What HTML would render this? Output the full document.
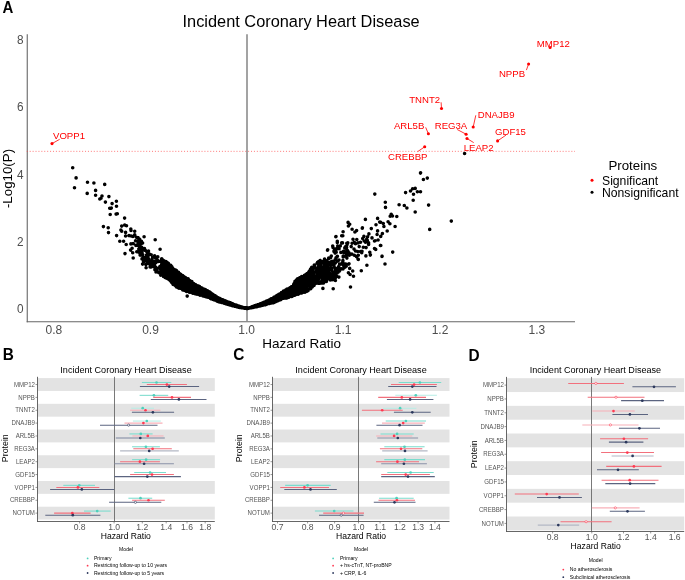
<!DOCTYPE html>
<html><head><meta charset="utf-8"><title>Figure</title>
<style>html,body{margin:0;padding:0;background:#fff;}svg{display:block;will-change:transform;}text{font-family:"Liberation Sans", sans-serif;}</style></head>
<body><svg width="685" height="580" viewBox="0 0 685 580" font-family='"Liberation Sans", sans-serif'>
<rect width="685" height="580" fill="#fff"/>
<text transform="translate(2.60,12.60) scale(1,1.12)" font-size="15.0" fill="#000" text-anchor="start" font-weight="bold">A</text>
<text transform="translate(301.10,26.60) scale(1,1.0)" font-size="16.35" fill="#000" text-anchor="middle">Incident Coronary Heart Disease</text>
<line x1="27.25" y1="34.3" x2="27.25" y2="322.2" stroke="#666" stroke-width="1.1"/>
<line x1="26.7" y1="321.7" x2="575" y2="321.7" stroke="#666" stroke-width="1.1"/>
<line x1="247.0" y1="34.3" x2="247.0" y2="321.2" stroke="#8c8c8c" stroke-width="1.6"/>
<text transform="translate(23.60,43.90) scale(1,1.06)" font-size="11.8" fill="#4d4d4d" text-anchor="end">8</text>
<text transform="translate(23.60,111.20) scale(1,1.06)" font-size="11.8" fill="#4d4d4d" text-anchor="end">6</text>
<text transform="translate(23.60,178.50) scale(1,1.06)" font-size="11.8" fill="#4d4d4d" text-anchor="end">4</text>
<text transform="translate(23.60,245.80) scale(1,1.06)" font-size="11.8" fill="#4d4d4d" text-anchor="end">2</text>
<text transform="translate(23.60,313.10) scale(1,1.06)" font-size="11.8" fill="#4d4d4d" text-anchor="end">0</text>
<text transform="translate(53.80,334.20) scale(1,1.0)" font-size="12.0" fill="#4d4d4d" text-anchor="middle">0.8</text>
<text transform="translate(150.50,334.20) scale(1,1.0)" font-size="12.0" fill="#4d4d4d" text-anchor="middle">0.9</text>
<text transform="translate(246.70,334.20) scale(1,1.0)" font-size="12.0" fill="#4d4d4d" text-anchor="middle">1.0</text>
<text transform="translate(343.20,334.20) scale(1,1.0)" font-size="12.0" fill="#4d4d4d" text-anchor="middle">1.1</text>
<text transform="translate(440.00,334.20) scale(1,1.0)" font-size="12.0" fill="#4d4d4d" text-anchor="middle">1.2</text>
<text transform="translate(536.80,334.20) scale(1,1.0)" font-size="12.0" fill="#4d4d4d" text-anchor="middle">1.3</text>
<text transform="translate(301.60,348.40) scale(1,1.0)" font-size="13.5" fill="#000" text-anchor="middle">Hazard Ratio</text>
<text x="0" y="0" font-size="13.3" text-anchor="middle" transform="translate(12.2,178.5) rotate(-90)">-Log10(P)</text>
<line x1="26.79" y1="151.35" x2="575" y2="151.35" stroke="#ff3b3b" stroke-width="0.9" stroke-dasharray="1 1.9122" opacity="0.75"/>
<text transform="translate(608.40,169.50) scale(1,1.0)" font-size="13.3" fill="#000" text-anchor="start">Proteins</text>
<circle cx="592" cy="180.2" r="1.5" fill="#ff0000"/>
<text transform="translate(602.00,184.60) scale(1,1.0)" font-size="12.2" fill="#000" text-anchor="start">Significant</text>
<circle cx="592" cy="192.3" r="1.5" fill="#000"/>
<text transform="translate(602.00,196.60) scale(1,1.0)" font-size="12.2" fill="#000" text-anchor="start">Nonsignificant</text>
<polygon points="162.0,257.8 163.0,258.5 164.0,259.1 165.0,259.8 166.0,260.4 167.0,261.1 168.0,261.7 169.0,262.5 170.0,263.5 171.0,264.4 172.0,265.4 173.0,266.3 174.0,267.3 175.0,268.3 176.0,269.2 177.0,270.2 178.0,270.9 179.0,271.6 180.0,272.2 181.0,272.8 182.0,273.5 183.0,274.1 184.0,274.8 185.0,275.4 186.0,276.1 187.0,276.8 188.0,277.6 189.0,278.3 190.0,279.1 191.0,279.9 192.0,280.6 193.0,281.4 194.0,282.1 195.0,282.8 196.0,283.4 197.0,284.0 198.0,284.6 199.0,285.2 200.0,285.8 201.0,286.4 202.0,287.0 203.0,287.6 204.0,288.1 205.0,288.6 206.0,289.1 207.0,289.6 208.0,290.1 209.0,290.6 210.0,291.1 211.0,292.0 212.0,292.9 213.0,293.5 214.0,294.1 215.0,294.7 216.0,295.4 217.0,296.0 218.0,296.6 219.0,297.1 220.0,297.6 221.0,298.0 222.0,298.5 223.0,298.9 224.0,299.4 225.0,299.8 226.0,300.2 227.0,300.6 228.0,301.0 229.0,301.4 230.0,301.8 231.0,302.2 232.0,302.6 233.0,303.0 234.0,303.4 235.0,303.8 236.0,304.2 237.0,304.5 238.0,304.9 239.0,305.3 240.0,305.6 241.0,305.9 242.0,306.3 243.0,306.6 244.0,307.0 245.0,307.2 246.0,307.4 247.0,307.6 247.0,309.3 246.0,309.2 245.0,309.1 244.0,308.9 243.0,308.8 242.0,308.6 241.0,308.5 240.0,308.3 239.0,308.2 238.0,308.0 237.0,307.8 236.0,307.5 235.0,307.3 234.0,307.0 233.0,306.7 232.0,306.5 231.0,306.2 230.0,305.9 229.0,305.6 228.0,305.3 227.0,305.1 226.0,304.8 225.0,304.5 224.0,304.2 223.0,303.9 222.0,303.6 221.0,303.3 220.0,303.0 219.0,302.7 218.0,302.4 217.0,302.0 216.0,301.6 215.0,301.2 214.0,300.8 213.0,300.4 212.0,300.1 211.0,299.7 210.0,299.3 209.0,299.0 208.0,298.6 207.0,298.3 206.0,297.9 205.0,297.6 204.0,297.2 203.0,296.9 202.0,296.6 201.0,296.4 200.0,296.2 199.0,295.9 198.0,295.7 197.0,295.5 196.0,295.2 195.0,295.0 194.0,294.7 193.0,294.4 192.0,294.1 191.0,293.8 190.0,293.5 189.0,293.2 188.0,292.9 187.0,292.5 186.0,292.2 185.0,291.8 184.0,291.4 183.0,290.9 182.0,290.5 181.0,290.1 180.0,289.6 179.0,289.2 178.0,288.7 177.0,288.3 176.0,287.6 175.0,286.9 174.0,286.2 173.0,285.5 172.0,284.5 171.0,283.5 170.0,282.6 169.0,281.6 168.0,280.8 167.0,280.2 166.0,279.6 165.0,279.0 164.0,278.5 163.0,278.1 162.0,277.7" fill="#000"/>
<polygon points="247.0,307.8 248.0,307.5 249.0,307.1 250.0,306.7 251.0,306.3 252.0,305.9 253.0,305.6 254.0,305.2 255.0,304.8 256.0,304.5 257.0,304.1 258.0,303.8 259.0,303.4 260.0,303.0 261.0,302.6 262.0,302.1 263.0,301.7 264.0,301.3 265.0,300.8 266.0,300.4 267.0,299.9 268.0,299.4 269.0,298.9 270.0,298.4 271.0,297.9 272.0,297.4 273.0,296.9 274.0,296.4 275.0,295.8 276.0,295.2 277.0,294.6 278.0,294.0 279.0,293.4 280.0,292.8 281.0,292.0 282.0,291.2 283.0,290.4 284.0,289.8 285.0,289.2 286.0,288.7 287.0,288.1 288.0,287.5 289.0,286.8 290.0,286.2 291.0,285.5 292.0,284.7 293.0,283.2 294.0,281.8 295.0,280.4 296.0,279.3 297.0,278.4 298.0,277.4 299.0,276.8 300.0,276.3 301.0,275.8 302.0,275.3 303.0,274.8 304.0,274.3 305.0,273.8 306.0,273.0 307.0,271.8 308.0,270.7 308.0,291.8 307.0,292.3 306.0,292.9 305.0,293.3 304.0,293.6 303.0,293.9 302.0,294.1 301.0,294.4 300.0,294.7 299.0,295.1 298.0,295.5 297.0,295.8 296.0,296.2 295.0,296.6 294.0,296.9 293.0,297.2 292.0,297.5 291.0,297.8 290.0,298.1 289.0,298.3 288.0,298.6 287.0,298.9 286.0,299.2 285.0,299.4 284.0,299.7 283.0,300.0 282.0,300.3 281.0,300.6 280.0,301.0 279.0,301.4 278.0,301.8 277.0,302.2 276.0,302.7 275.0,303.1 274.0,303.4 273.0,303.7 272.0,303.9 271.0,304.2 270.0,304.4 269.0,304.7 268.0,304.9 267.0,305.2 266.0,305.4 265.0,305.7 264.0,305.9 263.0,306.2 262.0,306.4 261.0,306.7 260.0,306.9 259.0,307.1 258.0,307.3 257.0,307.5 256.0,307.7 255.0,307.9 254.0,308.2 253.0,308.4 252.0,308.5 251.0,308.7 250.0,308.8 249.0,309.0 248.0,309.1 247.0,309.2" fill="#000"/>

<path d="M138.1 242.8h0M138.2 237.9h0M138.3 242.7h0M138.3 245.6h0M138.7 252.1h0M138.8 249.0h0M138.8 239.0h0M139.2 249.8h0M139.3 239.1h0M139.8 239.5h0M140.1 255.1h0M140.4 241.7h0M140.4 249.0h0M140.6 241.5h0M140.8 255.0h0M141.2 252.4h0M141.2 243.8h0M141.4 243.1h0M141.7 247.2h0M142.0 258.9h0M142.0 252.3h0M142.7 254.6h0M142.6 249.9h0M142.8 258.8h0M143.1 257.0h0M143.5 261.5h0M143.9 260.3h0M144.4 259.1h0M144.5 248.5h0M144.7 260.3h0M145.0 257.6h0M145.3 250.5h0M145.3 250.2h0M145.8 264.0h0M145.9 264.6h0M146.2 260.7h0M146.5 255.2h0M146.6 257.2h0M147.0 260.2h0M147.1 252.3h0M147.0 252.3h0M147.2 263.2h0M147.6 260.5h0M148.2 252.9h0M148.0 256.6h0M148.5 263.5h0M148.5 258.9h0M148.5 251.0h0M149.9 254.3h0M150.1 267.0h0M150.3 261.3h0M150.3 264.9h0M150.5 265.9h0M150.8 262.5h0M151.2 254.7h0M151.2 266.9h0M151.7 263.1h0M151.7 265.9h0M151.6 264.5h0M151.8 263.5h0M151.8 262.1h0M152.1 263.8h0M152.0 259.3h0M152.6 262.2h0M152.6 257.5h0M152.8 265.8h0M153.0 266.2h0M154.5 264.8h0M154.3 261.6h0M154.7 267.5h0M154.7 265.8h0M154.6 255.7h0M154.8 263.6h0M154.9 269.7h0M155.7 258.3h0M155.7 267.9h0M155.7 262.7h0M155.6 262.2h0M155.5 269.2h0M155.6 261.7h0M155.6 267.2h0M155.8 268.0h0M156.0 257.9h0M155.9 269.2h0M156.0 272.0h0M156.8 271.5h0M156.8 269.0h0M157.3 261.5h0M157.7 271.9h0M157.7 260.6h0M157.8 256.9h0M158.0 271.7h0M158.4 261.4h0M158.6 268.0h0M158.9 272.7h0M160.0 261.3h0M159.9 266.6h0M160.1 268.6h0M160.7 273.1h0M160.7 270.9h0M160.9 261.1h0M161.0 269.0h0M160.8 275.2h0M160.8 267.4h0M161.4 270.1h0M161.5 266.3h0M161.4 270.9h0M161.5 264.5h0M161.7 259.7h0M161.7 258.8h0M161.9 260.2h0M161.9 268.7h0M162.0 259.4h0M161.9 270.1h0M162.1 262.8h0M162.4 272.4h0M162.4 268.9h0M162.6 269.1h0M162.6 272.4h0M162.6 267.5h0M162.7 268.2h0M162.6 273.9h0M162.8 266.2h0M163.0 269.7h0M162.9 271.2h0M162.9 269.7h0M163.1 264.6h0M163.3 269.9h0M163.5 275.4h0M163.3 264.3h0M163.7 265.3h0M163.6 263.3h0M163.6 274.4h0M163.9 263.5h0M163.8 272.3h0M163.9 261.0h0M163.9 274.3h0M164.2 264.4h0M164.4 269.4h0M164.4 263.8h0M164.5 265.4h0M164.5 267.7h0M164.8 274.0h0M164.9 276.7h0M164.9 271.4h0M165.1 269.3h0M165.0 268.4h0M165.2 263.1h0M165.3 277.6h0M165.9 261.5h0M166.1 275.2h0M166.4 275.8h0M166.3 277.6h0M166.7 272.2h0M166.7 265.5h0M166.8 262.4h0M167.0 277.8h0M167.1 270.9h0M167.0 274.5h0M167.2 269.4h0M167.2 275.2h0M167.1 263.4h0M167.0 265.2h0M167.5 274.1h0M167.5 269.3h0M167.3 275.8h0M167.7 274.3h0M168.0 267.3h0M168.1 263.3h0M168.1 277.4h0M168.0 267.4h0M168.4 273.9h0M168.4 269.4h0M168.4 275.0h0M168.3 263.3h0M168.5 275.3h0M168.3 275.5h0M168.6 264.3h0M168.6 267.7h0M168.5 264.1h0M168.6 266.7h0M168.8 278.5h0M168.9 277.2h0M168.8 273.5h0M169.0 278.4h0M168.8 272.2h0M169.1 277.5h0M169.1 271.3h0M169.3 266.4h0M169.3 273.5h0M169.7 273.6h0M169.5 274.0h0M169.6 266.9h0M169.7 278.2h0M169.5 273.3h0M169.7 271.0h0M169.8 278.3h0M170.0 266.1h0M169.8 267.2h0M170.0 280.1h0M170.0 272.5h0M170.4 273.8h0M170.4 272.4h0M170.7 270.4h0M170.7 265.2h0M170.7 267.9h0M170.6 276.4h0M170.8 266.1h0M170.8 267.4h0M171.0 271.1h0M171.2 269.9h0M171.1 278.5h0M171.3 273.2h0M171.4 281.9h0M171.3 277.9h0M171.4 268.0h0M171.5 277.9h0M171.5 271.6h0M171.7 266.6h0M171.9 275.9h0M171.9 278.0h0M172.0 269.0h0M172.2 282.9h0M172.1 282.7h0M172.1 272.9h0M172.2 274.6h0M172.1 273.1h0M172.1 268.8h0M172.4 280.6h0M172.3 270.6h0M172.6 277.9h0M172.5 268.7h0M172.7 280.1h0M172.9 277.1h0M172.8 273.1h0M173.2 271.0h0M173.1 270.8h0M173.2 272.4h0M173.2 284.5h0M173.4 279.7h0M173.3 273.2h0M173.8 271.5h0M174.0 284.0h0M174.3 284.8h0M174.5 279.4h0M174.3 273.9h0M174.8 279.6h0M175.2 275.0h0M175.4 280.9h0M175.6 285.6h0M175.7 280.5h0M175.6 270.0h0M175.9 283.5h0M175.9 277.6h0M176.2 286.4h0M176.4 270.6h0M176.4 273.8h0M176.4 278.8h0M176.5 286.9h0M176.6 271.7h0M176.6 279.0h0M176.6 286.3h0M176.7 272.9h0M176.5 277.3h0M176.9 274.2h0M176.9 286.9h0M176.9 271.9h0M176.9 281.7h0M176.8 275.0h0M176.8 279.7h0M177.2 286.9h0M177.1 278.8h0M177.2 276.0h0M177.2 276.0h0M177.5 280.2h0M177.3 277.1h0M177.3 275.5h0M177.4 273.0h0M177.7 285.8h0M177.7 280.0h0M177.6 279.9h0M177.6 273.6h0M177.5 284.4h0M177.7 273.9h0M177.5 275.7h0M177.9 278.5h0M178.1 279.3h0M178.2 275.9h0M178.2 276.9h0M178.3 287.8h0M178.3 276.8h0M178.5 272.4h0M178.3 275.4h0M178.3 279.5h0M178.7 285.0h0M178.6 274.4h0M178.8 281.3h0M178.9 284.0h0M178.8 288.1h0M178.9 279.1h0M178.9 284.7h0M179.1 277.0h0M179.2 277.6h0M179.2 279.0h0M179.2 287.6h0M179.0 288.2h0M179.3 281.3h0M179.3 278.5h0M179.5 278.6h0M179.7 274.8h0M179.7 283.2h0M179.6 285.1h0M179.6 286.9h0M179.9 280.1h0M180.1 284.8h0M180.2 274.2h0M180.5 282.4h0M180.5 285.6h0M180.5 274.3h0M180.4 276.4h0M180.5 276.4h0M180.6 286.2h0M180.6 281.4h0M180.7 283.7h0M180.9 287.3h0M181.1 282.8h0M181.1 288.5h0M181.5 281.5h0M181.5 278.4h0M181.3 286.7h0M181.3 287.0h0M181.4 281.8h0M181.7 287.6h0M181.6 276.1h0M181.8 280.5h0M181.9 288.3h0M182.0 276.8h0M182.1 288.4h0M182.1 278.4h0M182.1 279.3h0M182.3 285.3h0M182.3 288.2h0M182.6 289.3h0M182.7 275.7h0M182.7 288.6h0M182.9 277.0h0M182.8 289.9h0M182.9 282.8h0M183.0 279.3h0M183.0 288.7h0M183.2 278.0h0M183.0 288.4h0M183.3 282.7h0M183.3 282.7h0M183.4 285.1h0M183.6 288.8h0M184.0 278.2h0M183.9 283.7h0M184.2 290.1h0M184.0 287.1h0M184.0 282.5h0M184.1 284.8h0M184.4 280.1h0M184.3 278.1h0M184.4 280.2h0M184.5 288.4h0M184.3 285.0h0M184.5 281.3h0M184.7 285.9h0M184.7 285.4h0M184.7 280.9h0M184.7 280.0h0M184.9 288.1h0M184.9 281.0h0M184.9 277.5h0M185.2 283.2h0M185.2 281.7h0M185.0 284.2h0M185.2 289.8h0M185.4 282.1h0M185.3 283.6h0M185.4 286.6h0M185.6 284.9h0M185.5 283.9h0M185.6 282.3h0M185.5 286.2h0M185.7 281.9h0M186.0 278.7h0M185.8 284.0h0M186.2 291.2h0M186.1 288.4h0M186.5 287.9h0M186.3 281.4h0M186.5 291.4h0M186.7 290.5h0M186.6 283.0h0M186.5 287.2h0M186.6 288.7h0M186.6 286.7h0M186.7 284.0h0M186.8 284.0h0M186.8 288.8h0M187.0 290.9h0M187.1 287.1h0M187.1 282.5h0M187.1 280.0h0M187.1 282.9h0M187.1 289.6h0M187.2 287.3h0M187.2 280.9h0M187.5 279.3h0M187.4 289.9h0M187.6 282.3h0M187.7 282.8h0M187.6 291.0h0M187.5 291.3h0M187.7 287.1h0M187.8 283.1h0M187.9 290.9h0M188.0 291.2h0M188.1 281.1h0M188.0 287.3h0M188.1 278.7h0M188.2 282.1h0M188.4 281.9h0M188.3 281.3h0M188.3 291.5h0M188.4 290.1h0M188.4 283.0h0M188.3 284.6h0M188.3 284.3h0M188.6 287.9h0M188.7 288.5h0M188.8 282.8h0M189.1 289.7h0M189.2 287.1h0M189.1 283.9h0M189.3 290.4h0M189.4 292.3h0M189.3 284.2h0M189.4 288.1h0M189.7 288.5h0M189.9 280.9h0M189.8 280.7h0M189.8 282.4h0M189.9 284.0h0M190.0 290.2h0M190.1 285.6h0M190.5 284.3h0M190.3 291.3h0M190.3 288.4h0M190.6 284.6h0M190.7 290.7h0M190.5 282.4h0M190.6 286.2h0M190.7 292.1h0M190.7 289.5h0M191.0 284.1h0M190.8 284.4h0M190.8 289.5h0M191.5 290.2h0M191.4 283.0h0M191.3 285.5h0M191.3 281.7h0M191.4 286.4h0M191.7 287.1h0M191.5 290.6h0M191.6 286.7h0M191.9 284.4h0M191.8 282.8h0M191.8 281.6h0M191.9 290.2h0M191.9 283.0h0M191.9 291.3h0M192.1 287.0h0M192.4 289.7h0M192.3 289.9h0M192.4 290.2h0M192.6 287.9h0M192.6 284.8h0M192.6 286.1h0M192.9 284.4h0M192.8 293.2h0M193.2 292.9h0M193.0 287.0h0M193.1 284.2h0M193.3 288.2h0M193.4 286.9h0M193.4 291.9h0M193.3 285.5h0M193.6 289.9h0M193.5 291.9h0M193.5 290.4h0M193.9 292.1h0M193.8 283.9h0M194.1 288.0h0M194.1 284.8h0M194.1 285.9h0M194.1 291.5h0M194.0 285.3h0M194.4 290.5h0M194.5 292.4h0M194.4 288.1h0M194.6 290.4h0M194.6 286.4h0M194.7 287.8h0M194.8 292.9h0M195.0 293.1h0M195.0 286.1h0M195.0 293.7h0M195.6 284.9h0M195.7 291.1h0M196.0 293.8h0M195.8 285.1h0M196.0 291.0h0M195.8 289.9h0M195.8 293.5h0M195.8 286.2h0M195.8 287.6h0M196.1 292.6h0M196.0 293.6h0M196.2 285.9h0M196.1 289.9h0M196.3 286.2h0M196.5 293.3h0M196.3 291.4h0M196.6 294.0h0M196.6 292.6h0M196.5 291.8h0M196.7 292.9h0M196.8 289.1h0M196.9 292.4h0M196.8 294.0h0M196.8 287.6h0M197.0 293.5h0M197.2 289.5h0M197.2 288.7h0M197.2 291.2h0M197.1 290.1h0M197.2 290.2h0M197.5 290.2h0M197.3 292.9h0M197.4 291.9h0M197.7 291.9h0M197.7 287.9h0M197.8 288.5h0M197.8 292.6h0M197.9 290.7h0M197.8 288.8h0M197.9 289.9h0M198.2 286.4h0M198.2 290.3h0M198.1 292.6h0M198.2 291.5h0M198.2 286.5h0M198.5 293.3h0M198.4 294.2h0M198.3 292.8h0M198.4 292.6h0M198.3 290.0h0M198.5 286.1h0M198.3 290.2h0M198.6 291.8h0M198.7 293.9h0M198.6 292.6h0M198.7 289.4h0M198.9 288.8h0M198.9 290.5h0M198.8 292.8h0M198.9 287.4h0M198.8 293.2h0M199.1 288.2h0M199.0 289.5h0M199.0 290.3h0M199.2 292.0h0M199.2 294.1h0M199.4 290.8h0M199.4 289.1h0M199.5 286.6h0M199.3 287.9h0M199.3 294.6h0M199.3 288.9h0M199.7 287.6h0M199.5 288.5h0M199.6 294.7h0M199.7 291.4h0M199.8 293.4h0M199.9 293.5h0M199.8 294.4h0M199.8 294.6h0M200.2 289.8h0M200.0 287.9h0M200.1 289.0h0M200.2 287.9h0M200.0 295.3h0M200.4 293.6h0M200.3 294.0h0M200.5 291.7h0M200.6 294.2h0M200.5 293.6h0M200.8 293.3h0M201.0 292.6h0M201.0 288.8h0M201.2 291.5h0M201.2 293.4h0M201.3 291.1h0M201.3 288.4h0M201.4 293.5h0M201.6 292.3h0M201.7 288.1h0M202.0 288.8h0M201.9 288.0h0M202.0 294.0h0M201.8 293.7h0M201.9 288.9h0M201.9 293.3h0M201.8 291.8h0M202.0 294.6h0M202.2 294.5h0M202.1 292.5h0M202.4 289.8h0M202.3 288.8h0M202.3 294.7h0M202.4 293.9h0M202.7 292.2h0M202.7 291.2h0M202.8 293.7h0M202.8 292.8h0M202.8 294.1h0M203.2 291.5h0M203.2 295.3h0M203.2 294.8h0M203.1 294.0h0M203.0 295.9h0M203.4 294.4h0M203.3 295.8h0M203.5 293.4h0M203.7 295.5h0M203.6 295.7h0M203.6 295.7h0M203.7 290.0h0M203.8 294.6h0M203.8 290.3h0M203.8 293.1h0M203.8 290.7h0M203.8 291.3h0M203.9 289.2h0M203.9 293.4h0M203.8 291.1h0M204.1 295.8h0M204.2 292.0h0M204.0 295.6h0M204.2 292.9h0M204.1 293.0h0M204.2 292.6h0M204.3 291.0h0M204.5 289.3h0M204.7 294.6h0M204.6 296.3h0M204.7 293.5h0M204.7 291.3h0M204.7 294.0h0M204.9 290.3h0M204.8 294.9h0M204.8 292.2h0M205.1 295.7h0M205.2 294.6h0M205.4 295.0h0M205.7 294.2h0M205.6 289.9h0M205.6 290.5h0M205.9 290.7h0M205.9 293.9h0M205.8 296.7h0M206.2 290.6h0M206.2 292.1h0M206.1 294.5h0M206.0 291.6h0M206.0 295.2h0M206.5 293.8h0M206.4 295.1h0M206.5 292.1h0M206.5 296.6h0M206.7 293.2h0M207.0 297.0h0M207.0 296.2h0M206.9 292.5h0M207.0 295.4h0M207.1 295.3h0M207.2 296.3h0M207.3 293.3h0M207.3 291.9h0M207.5 290.9h0M207.3 295.8h0M207.3 292.4h0M207.7 296.2h0M207.5 295.6h0M207.6 295.7h0M207.6 291.7h0M208.1 297.1h0M208.2 294.1h0M208.2 297.3h0M208.2 293.1h0M208.2 293.7h0M208.4 295.8h0M208.5 292.3h0M208.3 295.1h0M208.6 297.0h0M208.7 297.0h0M208.6 293.2h0M208.6 297.0h0M208.7 293.8h0M208.7 293.9h0M208.6 295.1h0M208.8 294.8h0M208.8 296.5h0M209.1 295.2h0M209.1 297.4h0M209.2 292.4h0M209.4 296.9h0M209.5 293.1h0M209.5 295.4h0M209.4 297.2h0M209.7 297.6h0M209.5 296.6h0M209.7 292.1h0M209.7 295.0h0M209.6 292.0h0M209.7 294.0h0M210.0 296.2h0M209.9 293.6h0M209.8 297.5h0M210.1 294.8h0M210.1 292.3h0M210.1 293.9h0M210.2 297.3h0M210.2 296.3h0M210.2 293.8h0M210.1 297.4h0M210.5 297.7h0M210.4 297.4h0M210.7 294.2h0M210.7 297.5h0M210.6 298.6h0M210.7 297.2h0M210.5 293.2h0M211.0 298.1h0M210.9 295.4h0M210.9 294.3h0M210.9 296.9h0M211.0 297.8h0M211.1 293.4h0M211.3 298.6h0M211.3 296.8h0M211.3 297.9h0M211.3 295.6h0M211.3 298.1h0M211.4 296.9h0M211.3 294.2h0M211.6 296.3h0M211.6 296.6h0M211.7 298.0h0M211.6 298.0h0M211.7 297.8h0M211.6 298.5h0M211.9 295.8h0M211.9 295.9h0M212.0 297.4h0M212.3 299.0h0M212.4 299.0h0M212.3 294.3h0M212.5 296.2h0M212.4 299.0h0M212.3 299.1h0M212.3 295.3h0M212.5 294.9h0M212.7 298.3h0M212.6 297.4h0M212.7 294.3h0M212.8 295.4h0M212.8 296.6h0M212.9 297.1h0M212.9 294.5h0M212.8 299.3h0M213.5 296.3h0M213.3 294.7h0M213.5 296.3h0M213.3 297.6h0M213.5 297.7h0M213.5 299.6h0M213.6 295.4h0M213.9 299.3h0M214.0 299.5h0M213.8 297.8h0M213.8 297.5h0M213.8 295.4h0M214.2 295.5h0M214.0 298.3h0M214.3 298.8h0M214.3 297.8h0M214.3 297.3h0M214.5 298.5h0M214.4 296.6h0M214.5 298.5h0M214.6 298.3h0M214.5 299.1h0M214.7 299.9h0M214.6 297.6h0M214.7 297.4h0M214.7 297.5h0M214.6 296.7h0M214.6 297.4h0M214.5 299.3h0M214.8 299.9h0M214.8 298.7h0M215.2 295.8h0M215.2 298.4h0M215.3 297.4h0M215.4 300.0h0M215.4 299.7h0M215.6 300.0h0M215.6 299.8h0M215.7 298.7h0M215.5 299.4h0M215.7 297.4h0M215.7 298.3h0M215.8 298.9h0M216.2 298.2h0M216.1 300.0h0M216.3 299.0h0M216.5 296.9h0M216.4 298.2h0M216.6 297.1h0M216.6 298.6h0M216.8 298.7h0M216.9 297.3h0M216.9 297.2h0M216.8 299.4h0M217.0 301.1h0M216.8 297.4h0M216.9 298.7h0M217.2 300.9h0M217.2 300.6h0M217.0 298.8h0M217.2 298.2h0M217.2 297.2h0M217.1 298.6h0M217.3 300.6h0M217.6 299.7h0M217.5 298.3h0M217.7 299.3h0M217.6 299.5h0M217.8 298.6h0M218.0 300.3h0M218.2 297.9h0M218.3 299.4h0M218.4 301.2h0M218.5 299.9h0M218.3 299.3h0M218.3 301.6h0M218.7 300.4h0M218.6 300.5h0M218.6 298.4h0M218.6 298.0h0M218.9 301.7h0M219.0 301.4h0M218.9 300.2h0M219.0 299.4h0M219.2 300.2h0M219.0 301.1h0M219.0 301.5h0M219.3 300.1h0M219.3 299.6h0M219.4 298.3h0M219.5 300.7h0M219.7 301.9h0M219.5 301.9h0M219.6 299.0h0M219.9 300.2h0M220.0 298.6h0M220.0 301.7h0M219.8 300.1h0M220.2 299.2h0M220.2 300.9h0M220.3 299.8h0M220.4 300.0h0M220.3 300.6h0M220.6 301.0h0M220.6 302.1h0M220.6 301.6h0M220.7 301.9h0M220.8 300.9h0M220.8 300.2h0M220.8 302.2h0M220.9 301.4h0M220.8 299.9h0M221.0 299.3h0M221.0 300.4h0M221.2 299.9h0M221.0 300.4h0M221.0 300.5h0M221.1 301.7h0M221.5 301.6h0M221.3 300.4h0M221.4 300.9h0M221.6 301.2h0M221.7 301.3h0M221.6 302.5h0M221.6 300.0h0M221.6 300.4h0M221.5 301.6h0M221.9 301.4h0M221.8 299.7h0M222.0 299.9h0M221.9 300.8h0M222.0 301.2h0M222.2 301.9h0M222.2 301.1h0M222.1 301.5h0M222.2 300.5h0M222.5 299.9h0M222.7 300.9h0M222.8 301.6h0M222.8 300.6h0M223.0 301.0h0M222.8 301.7h0M222.9 300.0h0M222.8 301.7h0M223.1 302.7h0M223.1 300.4h0M223.1 302.2h0M223.2 300.0h0M223.0 301.1h0M223.5 302.8h0M223.6 302.8h0M223.8 302.9h0M223.8 301.4h0M223.9 301.2h0M223.8 303.0h0M224.1 303.0h0M224.1 303.3h0M224.2 302.9h0M224.3 301.1h0M224.3 301.7h0M224.4 302.3h0M224.3 301.0h0M224.7 301.7h0M224.5 302.5h0M225.0 303.0h0M224.9 303.2h0M224.9 302.7h0M224.8 301.3h0M224.8 303.3h0M225.2 300.9h0M225.2 303.3h0M225.0 302.9h0M225.2 300.9h0M225.1 302.0h0M225.2 303.3h0M225.3 301.8h0M225.3 301.5h0M225.4 303.6h0M225.4 302.7h0M225.7 301.5h0M225.5 302.4h0M225.6 303.1h0M225.8 302.8h0M225.9 302.3h0M225.8 301.5h0M225.9 301.8h0M226.0 301.6h0M226.2 301.3h0M226.0 302.4h0M226.1 302.3h0M226.1 302.4h0M226.2 303.7h0M226.1 301.9h0M226.2 301.7h0M226.1 303.1h0M226.6 303.6h0M226.6 302.2h0M226.7 303.0h0M226.5 302.4h0M227.0 301.7h0M226.8 301.9h0M227.0 303.0h0M226.8 301.7h0M226.9 301.7h0M227.1 302.0h0M227.2 301.8h0M227.2 302.5h0M227.3 302.1h0M227.4 303.8h0M227.3 301.9h0M227.3 303.3h0M227.3 304.2h0M227.4 304.1h0M227.6 302.2h0M227.7 302.4h0M227.7 302.6h0M227.8 303.6h0M228.0 303.8h0M227.9 303.5h0M227.9 303.3h0M227.8 304.0h0M227.8 304.2h0M228.0 303.1h0M228.2 304.2h0M228.1 303.3h0M228.1 302.2h0M228.0 303.2h0M228.1 304.1h0M228.0 304.1h0M228.1 303.3h0M228.2 302.3h0M228.2 304.4h0M228.4 303.7h0M228.7 302.8h0M228.5 302.3h0M229.0 304.4h0M229.0 304.2h0M228.8 302.8h0M229.0 303.3h0M229.1 304.5h0M229.2 304.1h0M229.0 302.4h0M229.2 304.7h0M229.1 303.9h0M229.0 303.3h0M229.2 303.2h0M229.3 303.3h0M229.4 304.6h0M229.4 302.5h0M229.3 304.8h0M229.7 303.1h0M229.5 303.9h0M229.7 303.3h0M229.6 302.9h0M229.7 304.4h0M229.5 303.8h0M229.8 304.9h0M229.8 303.4h0M229.9 303.6h0M230.4 304.8h0M230.3 305.0h0M230.3 304.3h0M230.3 303.3h0M230.3 305.0h0M230.3 304.9h0M230.7 303.2h0M230.7 303.6h0M230.9 303.1h0M230.9 304.4h0M230.8 303.0h0M231.0 303.4h0M231.1 304.0h0M231.3 304.3h0M231.3 304.8h0M231.3 303.9h0M231.4 303.8h0M231.7 305.4h0M231.6 303.7h0M231.7 304.0h0M231.6 303.5h0M231.7 305.4h0M231.8 303.5h0M232.0 305.6h0M231.9 303.8h0M231.8 304.3h0M231.8 303.8h0M231.8 304.8h0M231.9 303.6h0M231.8 304.0h0M231.9 304.7h0M232.2 303.9h0M232.0 304.5h0M232.2 304.9h0M232.2 304.2h0M232.2 304.0h0M232.5 304.8h0M232.3 303.9h0M232.5 305.4h0M232.4 304.4h0M232.4 305.6h0M232.7 305.4h0M232.7 304.1h0M232.5 305.0h0M232.7 303.9h0M232.7 304.3h0M232.9 304.4h0M232.9 304.1h0M233.1 304.5h0M233.2 305.7h0M233.5 304.4h0M233.7 305.0h0M233.6 304.9h0M233.6 304.7h0M233.7 305.1h0M234.0 305.0h0M233.8 305.8h0M233.9 306.0h0M234.0 304.5h0M233.9 305.6h0M233.8 305.2h0M234.1 304.9h0M234.1 305.1h0M234.3 306.1h0M234.3 306.1h0M234.3 305.5h0M234.6 304.7h0M234.6 304.8h0M234.9 305.8h0M234.8 306.3h0M234.9 306.2h0M235.5 305.5h0M235.6 305.6h0M235.7 305.1h0M235.7 305.7h0M235.9 305.3h0M235.8 306.3h0M235.9 305.7h0M235.9 306.5h0M236.2 305.5h0M236.1 305.8h0M236.4 305.8h0M236.3 305.9h0M236.4 306.6h0M236.5 306.5h0M236.3 306.5h0M236.7 306.3h0M236.7 306.3h0M236.7 305.4h0M236.9 306.0h0M237.1 306.1h0M237.3 306.1h0M237.3 305.8h0M237.4 305.7h0M237.5 306.4h0M237.3 306.0h0M237.3 305.8h0M237.7 306.3h0M237.7 306.3h0M238.0 306.1h0M237.8 306.2h0M237.9 306.9h0M237.9 306.3h0M238.0 306.6h0M238.1 306.3h0M238.1 307.1h0M238.0 305.9h0M238.1 307.1h0M238.3 306.6h0M238.7 306.4h0M238.5 306.2h0M238.9 306.6h0M239.0 306.7h0M239.1 306.2h0M239.2 306.3h0M239.1 306.4h0M239.2 306.3h0M239.3 306.5h0M239.3 307.0h0M239.3 306.5h0M239.3 307.1h0M239.6 307.4h0M239.6 306.9h0M239.7 306.5h0M239.5 307.1h0M239.7 306.5h0M239.5 306.4h0M239.8 307.3h0M239.8 307.0h0M239.8 306.8h0M240.1 306.8h0M240.4 307.5h0M240.3 307.4h0M240.7 306.9h0M240.5 307.2h0M240.9 307.5h0M240.8 307.1h0M240.8 306.9h0M240.9 307.5h0M240.8 307.3h0M241.1 306.9h0M241.2 307.5h0M241.0 307.2h0M241.1 307.4h0M241.1 307.6h0M241.4 307.6h0M241.3 307.1h0M241.6 307.2h0M241.6 307.6h0M241.9 307.3h0M241.8 307.3h0M242.0 307.3h0M241.9 307.5h0M242.1 307.6h0M242.0 307.3h0M242.2 307.4h0M242.2 307.4h0M242.3 307.7h0M242.3 307.6h0M242.5 307.6h0M242.5 307.5h0M242.5 307.7h0M242.6 307.4h0M242.7 307.7h0M242.6 307.5h0M242.8 307.5h0M242.8 307.8h0M242.8 307.5h0M242.9 307.7h0M243.0 307.6h0M242.8 307.5h0M243.2 307.6h0M243.1 307.9h0M243.2 307.8h0M243.2 307.7h0M243.3 307.8h0M243.3 307.9h0M243.3 307.7h0M243.3 307.7h0M243.6 307.9h0M243.5 307.8h0M243.8 307.9h0M244.2 308.0h0M244.3 308.1h0M244.3 308.0h0M244.4 308.1h0M244.7 308.1h0M244.6 308.1h0M244.9 308.1h0M244.9 308.1h0M244.9 308.1h0M245.1 308.2h0M245.3 308.2h0M245.3 308.2h0M245.4 308.2h0M245.4 308.2h0M245.4 308.2h0M245.5 308.2h0M245.3 308.2h0M245.5 308.2h0M245.6 308.2h0M245.5 308.2h0M245.8 308.3h0M245.8 308.3h0M245.8 308.3h0M245.8 308.3h0M245.8 308.3h0M245.8 308.3h0M245.9 308.3h0M246.1 308.3h0M246.3 308.3h0M246.4 308.4h0M246.5 308.4h0M246.5 308.4h0M246.7 308.4h0M246.6 308.4h0M246.9 308.4h0M246.9 308.4h0M246.8 308.4h0M246.8 308.4h0M247.2 308.5h0M247.2 308.5h0M247.1 308.5h0M247.5 308.4h0M247.3 308.5h0M247.5 308.4h0M247.6 308.4h0M247.9 308.3h0M248.0 308.3h0M247.8 308.3h0M248.0 308.3h0M247.8 308.4h0M248.1 308.3h0M248.1 308.3h0M248.1 308.3h0M248.0 308.3h0M248.4 308.2h0M248.5 308.2h0M248.6 308.1h0M248.7 308.1h0M248.8 308.1h0M248.8 308.1h0M249.0 308.0h0M248.9 308.1h0M249.1 308.0h0M249.2 307.9h0M249.2 307.9h0M249.1 308.0h0M249.5 307.9h0M249.4 307.9h0M249.5 307.9h0M249.4 307.8h0M249.6 307.9h0M249.5 307.9h0M249.5 307.8h0M249.6 307.8h0M249.9 307.7h0M250.0 307.7h0M249.9 307.9h0M249.8 307.9h0M249.8 307.7h0M249.9 307.9h0M249.9 307.9h0M250.0 307.8h0M250.1 307.8h0M250.1 307.8h0M250.5 307.8h0M250.5 307.5h0M250.6 307.5h0M250.6 307.5h0M250.9 307.2h0M251.0 307.4h0M251.0 307.2h0M251.2 307.7h0M251.2 307.3h0M251.3 307.4h0M251.5 307.1h0M251.4 307.3h0M251.7 307.6h0M251.7 307.6h0M251.6 307.2h0M251.9 306.9h0M251.8 307.5h0M252.2 307.0h0M252.2 306.8h0M252.0 307.3h0M252.3 307.0h0M252.4 306.9h0M252.3 307.1h0M252.4 306.9h0M252.6 306.9h0M252.5 306.7h0M252.5 306.7h0M252.9 307.4h0M252.8 307.1h0M252.9 306.8h0M252.8 306.6h0M253.1 307.4h0M253.1 307.0h0M253.1 307.1h0M253.1 307.0h0M253.4 307.3h0M253.3 306.6h0M253.5 306.5h0M253.6 307.2h0M253.8 307.2h0M253.8 306.3h0M254.2 306.8h0M254.0 306.7h0M254.3 306.7h0M254.3 307.0h0M254.5 306.0h0M254.6 305.9h0M254.7 306.6h0M254.6 306.7h0M254.6 307.0h0M254.8 306.3h0M254.8 307.0h0M254.8 306.5h0M255.0 307.0h0M255.0 306.1h0M255.4 306.8h0M255.5 306.0h0M255.4 306.2h0M255.4 305.9h0M255.7 306.1h0M255.7 306.8h0M255.6 306.8h0M255.6 305.6h0M256.0 306.2h0M255.9 305.9h0M256.0 306.6h0M256.1 306.8h0M256.2 305.9h0M256.2 306.1h0M256.2 306.6h0M256.1 306.7h0M256.4 306.4h0M256.5 306.1h0M256.5 306.4h0M256.5 305.2h0M256.9 306.5h0M257.0 305.6h0M256.9 305.9h0M256.8 305.9h0M257.0 306.4h0M257.2 306.6h0M257.1 306.0h0M257.0 306.0h0M257.2 306.2h0M257.2 305.4h0M257.0 306.3h0M257.0 305.4h0M257.5 305.3h0M257.3 305.9h0M257.4 306.2h0M257.5 305.4h0M257.3 306.1h0M257.4 305.3h0M257.6 305.3h0M257.8 305.3h0M258.1 306.1h0M258.4 305.3h0M258.4 305.9h0M258.4 306.1h0M258.5 305.4h0M258.9 304.7h0M258.8 305.1h0M259.0 305.8h0M259.1 304.8h0M259.2 305.9h0M259.1 305.1h0M259.1 304.6h0M259.5 304.6h0M259.3 304.3h0M259.5 305.8h0M259.7 304.8h0M259.7 304.5h0M259.9 304.1h0M259.8 306.0h0M259.8 304.7h0M259.8 305.3h0M260.0 304.8h0M260.0 304.0h0M260.1 305.9h0M260.3 305.6h0M260.3 304.1h0M260.7 304.3h0M260.6 304.3h0M260.6 305.7h0M260.7 304.0h0M260.9 305.2h0M260.9 305.3h0M260.8 303.9h0M261.4 304.3h0M261.4 303.8h0M261.5 303.7h0M261.4 305.4h0M261.3 305.4h0M261.4 304.7h0M261.3 304.1h0M261.3 304.4h0M261.7 303.7h0M261.6 303.9h0M261.7 303.2h0M261.7 305.0h0M261.6 304.9h0M261.8 305.5h0M261.8 305.3h0M262.0 305.1h0M261.9 304.6h0M262.0 304.1h0M262.0 305.0h0M262.0 303.3h0M262.2 303.9h0M262.2 303.1h0M262.4 303.4h0M262.5 303.5h0M262.5 304.1h0M262.6 304.5h0M262.7 303.4h0M262.5 304.7h0M262.7 304.2h0M262.6 305.2h0M262.8 304.7h0M262.8 302.8h0M262.9 304.5h0M262.8 305.2h0M263.3 303.1h0M263.3 304.3h0M263.3 304.4h0M263.6 304.9h0M263.6 303.2h0M263.9 302.4h0M263.9 303.1h0M263.9 302.8h0M263.8 304.1h0M264.0 303.1h0M264.2 304.7h0M264.5 304.2h0M264.7 304.2h0M264.5 303.1h0M264.9 304.1h0M264.9 303.8h0M265.0 304.7h0M265.0 303.7h0M265.2 304.3h0M265.2 302.5h0M265.4 302.1h0M265.5 304.3h0M265.4 302.5h0M265.3 303.4h0M265.5 302.3h0M265.7 303.6h0M265.6 302.8h0M265.9 304.5h0M265.8 304.6h0M265.8 302.4h0M266.2 302.0h0M266.1 303.5h0M266.2 303.0h0M266.2 301.7h0M266.0 301.4h0M266.2 302.6h0M266.4 304.1h0M266.4 302.1h0M266.4 302.2h0M266.4 301.4h0M266.7 303.1h0M266.7 302.3h0M266.5 304.1h0M266.7 304.3h0M266.6 304.0h0M266.7 302.8h0M266.9 302.7h0M266.9 302.8h0M267.0 303.6h0M267.0 303.0h0M267.0 302.6h0M267.2 301.0h0M267.4 303.7h0M267.3 303.2h0M267.3 301.4h0M267.3 301.7h0M267.7 301.0h0M267.7 301.1h0M267.7 302.6h0M267.5 303.6h0M267.6 302.3h0M267.5 303.8h0M267.8 302.4h0M267.9 303.4h0M268.0 301.0h0M268.1 301.4h0M268.2 302.3h0M268.3 303.3h0M268.3 301.5h0M268.4 300.6h0M268.4 301.5h0M268.3 302.5h0M268.4 300.8h0M268.4 301.7h0M268.3 303.5h0M268.6 300.2h0M268.6 300.7h0M268.8 300.7h0M268.8 300.6h0M269.2 301.8h0M269.2 302.7h0M269.0 303.1h0M269.0 301.5h0M269.1 303.0h0M269.0 302.5h0M269.1 300.0h0M269.1 302.3h0M269.3 301.0h0M269.3 303.4h0M269.7 299.8h0M269.5 303.4h0M269.6 302.8h0M269.6 299.9h0M269.6 300.2h0M269.9 300.5h0M270.1 300.3h0M270.1 301.1h0M270.1 303.0h0M270.1 302.1h0M270.2 301.9h0M270.0 300.7h0M270.4 302.8h0M270.5 302.3h0M270.7 299.3h0M270.7 299.5h0M271.2 298.8h0M271.2 302.5h0M271.1 298.8h0M271.4 301.0h0M271.7 302.9h0M271.6 302.2h0M271.7 299.8h0M271.5 302.0h0M271.8 298.7h0M272.0 299.8h0M272.0 299.5h0M272.0 300.0h0M272.2 302.6h0M272.2 301.1h0M272.0 302.7h0M272.2 301.2h0M272.4 302.5h0M272.4 298.9h0M272.5 298.6h0M272.3 302.3h0M272.4 299.7h0M272.7 301.9h0M272.5 300.6h0M272.7 299.6h0M273.0 301.5h0M273.0 299.8h0M273.1 299.2h0M273.2 301.5h0M273.1 302.6h0M273.3 302.3h0M273.5 299.8h0M273.4 298.3h0M273.5 301.0h0M273.5 300.8h0M273.4 301.4h0M273.5 301.9h0M273.3 300.2h0M273.5 300.2h0M273.5 298.0h0M273.6 299.4h0M273.7 302.6h0M273.9 297.4h0M273.9 299.1h0M273.8 299.0h0M273.9 300.0h0M274.1 299.0h0M274.1 300.1h0M274.0 300.1h0M274.1 297.3h0M274.1 302.4h0M274.1 297.6h0M274.1 300.9h0M274.4 301.5h0M274.3 297.9h0M274.6 301.3h0M274.7 300.5h0M275.0 301.9h0M275.2 297.1h0M275.2 297.0h0M275.3 297.3h0M275.4 299.6h0M275.5 297.2h0M275.5 301.7h0M275.4 297.1h0M275.3 297.0h0M275.3 300.7h0M275.7 296.9h0M275.7 299.7h0M275.9 297.7h0M275.9 300.6h0M276.0 300.9h0M276.2 300.5h0M276.1 300.5h0M276.2 296.9h0M276.2 296.0h0M276.3 298.3h0M276.5 297.6h0M276.6 301.2h0M276.7 298.9h0M276.6 298.7h0M276.6 297.6h0M276.9 295.6h0M276.9 297.7h0M277.1 298.3h0M277.0 299.7h0M277.2 300.2h0M277.0 296.2h0M277.2 299.7h0M277.0 295.7h0M277.1 297.4h0M277.0 296.1h0M277.1 295.6h0M277.3 299.7h0M277.5 300.8h0M277.7 298.5h0M277.7 299.6h0M277.7 296.5h0M277.9 300.8h0M277.9 295.9h0M277.8 296.7h0M277.8 295.9h0M278.0 299.6h0M278.1 297.6h0M278.1 297.8h0M278.1 296.8h0M278.0 300.7h0M278.3 296.1h0M278.4 298.3h0M278.6 298.4h0M278.6 299.6h0M278.5 297.9h0M278.6 295.9h0M278.8 295.0h0M278.8 300.0h0M278.9 295.3h0M278.8 299.1h0M278.9 294.4h0M279.2 297.0h0M279.2 295.5h0M279.1 298.3h0M279.3 299.3h0M279.3 296.4h0M279.4 297.6h0M279.3 294.2h0M279.6 297.4h0M279.7 296.3h0M279.6 296.6h0M280.0 295.3h0M280.0 293.8h0M280.1 296.3h0M280.3 298.4h0M280.3 293.9h0M280.3 299.8h0M280.6 299.8h0M280.7 296.7h0M280.7 296.5h0M280.8 298.3h0M280.9 298.8h0M280.9 296.8h0M281.0 296.3h0M280.9 296.3h0M280.8 298.2h0M281.1 295.6h0M281.1 294.3h0M281.2 298.8h0M281.1 298.6h0M281.3 298.4h0M281.3 297.4h0M281.3 297.9h0M281.5 296.8h0M281.3 297.8h0M281.4 298.6h0M281.3 294.6h0M281.5 298.4h0M281.5 292.5h0M281.5 292.7h0M281.6 296.8h0M281.7 295.2h0M281.5 298.8h0M281.9 296.7h0M281.9 293.5h0M282.1 297.3h0M282.1 297.7h0M282.3 298.4h0M282.3 297.4h0M282.6 293.4h0M282.7 292.8h0M282.8 293.0h0M283.1 298.2h0M283.2 297.1h0M283.1 292.8h0M283.3 297.2h0M283.4 294.1h0M283.4 294.9h0M283.6 291.0h0M283.8 296.9h0M283.9 296.1h0M283.9 292.8h0M284.1 296.9h0M284.2 295.4h0M284.0 292.6h0M284.2 293.9h0M284.2 291.7h0M284.3 294.2h0M284.5 294.6h0M284.4 296.5h0M284.3 292.5h0M284.4 291.0h0M284.3 296.7h0M284.7 294.2h0M284.6 296.3h0M284.8 294.4h0M284.8 291.3h0M284.8 296.0h0M284.9 292.2h0M285.1 295.2h0M285.0 293.5h0M285.2 295.5h0M285.2 292.6h0M285.1 292.0h0M285.3 291.4h0M285.6 294.1h0M285.7 298.0h0M285.7 290.3h0M285.7 290.5h0M285.7 297.1h0M285.7 290.8h0M285.8 294.8h0M285.8 297.7h0M286.0 289.8h0M285.9 295.8h0M286.0 295.7h0M286.7 293.0h0M286.6 293.5h0M286.9 298.0h0M287.0 289.6h0M286.8 293.3h0M286.9 290.1h0M287.0 290.9h0M287.1 291.2h0M287.1 292.5h0M287.1 289.0h0M287.2 297.5h0M287.4 297.7h0M287.4 289.7h0M287.4 297.2h0M287.3 289.3h0M287.3 289.5h0M287.7 290.1h0M287.6 292.4h0M287.7 295.6h0M287.6 294.2h0M287.6 294.1h0M287.8 290.1h0M287.9 294.7h0M287.9 290.3h0M287.8 289.8h0M287.9 292.3h0M287.8 290.6h0M288.2 289.8h0M288.2 293.8h0M288.2 297.1h0M288.1 297.1h0M288.0 292.5h0M288.4 293.1h0M288.3 294.2h0M288.3 293.6h0M288.4 295.2h0M288.7 295.2h0M288.7 295.9h0M288.6 296.6h0M288.7 294.0h0M289.0 297.2h0M289.0 295.1h0M289.0 296.3h0M288.9 290.1h0M288.8 295.2h0M288.9 294.8h0M288.9 294.2h0M289.2 293.2h0M289.1 288.9h0M289.2 288.7h0M289.2 289.4h0M289.4 295.1h0M289.3 292.1h0M289.4 290.4h0M289.3 293.1h0M289.7 295.7h0M289.6 295.9h0M289.5 293.0h0M290.0 287.9h0M289.9 290.0h0M289.9 296.4h0M290.1 294.3h0M290.0 295.8h0M290.4 289.3h0M290.3 289.1h0M290.4 294.3h0M290.3 296.2h0M290.7 291.2h0M290.6 291.2h0M290.7 293.2h0M290.5 291.0h0M291.0 296.0h0M291.1 289.3h0M291.0 293.6h0M291.4 293.3h0M291.4 287.6h0M291.3 295.5h0M291.4 287.2h0M291.4 286.8h0M291.7 296.0h0M291.7 294.1h0M291.6 296.5h0M291.8 287.3h0M291.9 296.5h0M291.8 290.1h0M292.0 286.5h0M291.8 293.9h0M291.8 292.5h0M292.1 296.0h0M292.2 293.1h0M292.1 289.0h0M292.4 294.3h0M292.7 287.4h0M292.7 288.6h0M292.7 295.8h0M292.8 289.0h0M293.0 290.5h0M292.8 292.1h0M292.9 295.3h0M293.0 286.2h0M293.4 295.5h0M293.5 285.5h0M293.4 286.8h0M293.4 286.6h0M293.7 286.8h0M293.6 286.8h0M293.8 292.0h0M293.8 284.2h0M293.8 294.8h0M294.2 283.5h0M294.5 283.7h0M294.4 292.8h0M294.4 289.1h0M294.6 295.3h0M294.6 284.1h0M294.7 288.9h0M294.7 290.5h0M295.0 282.0h0M295.0 281.4h0M294.9 290.5h0M295.4 294.8h0M295.3 283.5h0M295.5 283.1h0M295.5 283.9h0M295.7 282.6h0M295.7 292.8h0M295.6 284.0h0M295.6 292.1h0M295.6 285.3h0M295.9 289.3h0M296.0 284.7h0M295.9 294.4h0M295.8 293.9h0M296.1 290.7h0M296.2 283.7h0M296.1 284.5h0M296.2 285.5h0M296.4 290.9h0M296.4 293.1h0M296.4 280.1h0M296.5 288.5h0M296.4 289.0h0M296.3 284.4h0M296.6 280.1h0M296.6 282.3h0M296.6 283.4h0M296.5 290.3h0M296.8 281.4h0M296.8 290.3h0M296.9 290.0h0M296.8 283.3h0M296.9 289.6h0M296.9 282.8h0M296.8 291.3h0M296.9 283.2h0M297.1 291.8h0M297.1 289.8h0M297.4 281.0h0M297.3 290.5h0M297.5 293.7h0M297.6 278.7h0M297.6 287.1h0M297.7 283.9h0M297.7 289.3h0M297.6 288.5h0M297.6 288.5h0M297.6 293.3h0M297.9 284.2h0M297.9 286.8h0M297.9 286.3h0M298.2 294.3h0M298.0 293.1h0M298.4 282.5h0M298.3 288.3h0M298.3 294.1h0M298.4 294.0h0M298.5 285.2h0M298.6 287.0h0M298.8 290.6h0M298.9 289.7h0M299.0 291.8h0M299.1 286.8h0M299.0 289.6h0M299.1 289.1h0M299.2 287.8h0M299.4 289.2h0M299.4 289.6h0M299.6 286.4h0M299.7 288.6h0M299.7 277.9h0M299.7 292.6h0M299.6 292.7h0M299.5 283.5h0M299.5 288.5h0M299.8 292.1h0M299.9 277.9h0M299.8 288.6h0M300.0 280.5h0M300.2 286.5h0M300.2 288.2h0M300.1 284.4h0M300.3 287.9h0M300.4 286.5h0M300.7 287.7h0M300.7 286.2h0M300.7 283.1h0M300.7 286.3h0M300.6 287.6h0M300.7 292.2h0M300.9 291.2h0M300.9 280.1h0M300.8 291.5h0M300.8 288.3h0M301.2 279.3h0M301.2 277.4h0M301.2 279.2h0M301.1 282.9h0M301.2 281.2h0M301.2 292.5h0M301.0 288.7h0M301.5 283.9h0M301.3 292.8h0M301.3 280.1h0M301.7 276.5h0M301.7 292.9h0M301.6 283.8h0M301.7 283.2h0M301.6 291.0h0M301.9 284.6h0M302.0 285.5h0M302.0 283.7h0M301.9 280.8h0M302.2 279.5h0M302.1 290.4h0M302.1 276.7h0M302.5 290.2h0M302.3 287.4h0M302.5 287.1h0M302.5 280.4h0M302.4 285.1h0M302.5 276.9h0M302.7 287.0h0M302.5 278.2h0M302.6 279.0h0M302.7 279.7h0M302.9 276.9h0M302.8 292.1h0M303.0 288.7h0M302.8 286.6h0M302.9 283.2h0M303.1 280.1h0M303.1 285.2h0M303.5 277.5h0M303.4 286.5h0M303.3 279.1h0M303.4 290.4h0M303.3 284.8h0M303.4 285.6h0M303.5 289.5h0M303.6 283.0h0M303.7 277.9h0M303.7 279.7h0M303.7 289.6h0M303.7 288.9h0M303.8 288.4h0M303.8 291.6h0M304.2 280.3h0M304.2 288.4h0M304.1 285.2h0M304.4 291.2h0M304.5 285.2h0M304.3 288.2h0M304.7 288.4h0M304.6 277.9h0M304.6 288.7h0M304.6 275.2h0M304.7 292.0h0M304.7 289.0h0M304.7 284.6h0M304.7 288.1h0M304.9 292.3h0M304.9 282.1h0M305.0 285.2h0M305.4 279.9h0M305.3 290.4h0M305.7 291.4h0M305.6 277.0h0M305.8 277.1h0M305.8 279.3h0M306.2 282.8h0M306.1 290.6h0M306.2 289.1h0M306.3 274.2h0M306.3 279.2h0M306.4 280.8h0M306.3 276.2h0M307.2 291.1h0M307.2 273.5h0M307.4 281.3h0M307.3 283.0h0M307.4 290.7h0M307.3 278.1h0M307.3 276.6h0M307.3 279.3h0M307.6 276.2h0M307.6 277.7h0M307.6 282.0h0M308.1 290.6h0M308.4 283.4h0M308.6 283.0h0M308.7 280.9h0M308.6 283.0h0M308.8 285.3h0M308.9 286.1h0M309.2 280.2h0M309.2 284.3h0M309.2 274.0h0M309.2 285.5h0M309.3 289.0h0M309.4 271.0h0M309.3 281.2h0M309.3 279.4h0M309.4 271.6h0M309.5 286.3h0M309.7 279.2h0M310.0 282.3h0M309.8 281.2h0M310.1 286.4h0M310.3 275.2h0M310.7 288.8h0M310.5 282.0h0M310.5 272.9h0M310.7 276.8h0M310.6 272.9h0M310.6 269.0h0M310.6 288.4h0M310.8 279.7h0M311.0 283.5h0M310.9 270.8h0M311.0 277.0h0M310.9 279.9h0M311.0 273.9h0M311.3 278.9h0M311.3 284.5h0M311.6 275.1h0M311.7 287.0h0M311.5 267.9h0M311.6 274.1h0M311.8 267.4h0M312.0 277.9h0M311.9 280.8h0M312.0 278.1h0M311.8 269.3h0M311.9 271.1h0M312.2 286.9h0M312.1 279.8h0M312.1 287.1h0M312.1 280.6h0M312.5 281.7h0M312.9 282.0h0M312.8 269.3h0M312.8 267.8h0M312.8 268.3h0M312.9 272.6h0M313.2 271.0h0M313.1 275.0h0M313.1 277.7h0M313.2 278.9h0M313.4 277.6h0M313.3 281.6h0M313.6 275.8h0M313.9 282.3h0M314.0 285.4h0M313.8 271.8h0M313.8 281.8h0M314.0 276.7h0M313.9 279.1h0M314.0 273.1h0M314.1 267.4h0M314.3 283.6h0M314.5 281.4h0M314.3 276.5h0M314.3 265.1h0M314.5 265.8h0M315.0 267.7h0M314.8 277.8h0M314.8 275.7h0M315.2 279.9h0M315.5 268.2h0M315.6 283.5h0M315.5 281.5h0M315.8 277.3h0M316.2 278.9h0M316.2 283.2h0M316.4 280.5h0M316.5 282.2h0M316.4 272.3h0M316.6 277.5h0M316.7 279.1h0M316.8 268.6h0M316.8 270.2h0M316.8 272.3h0M316.9 282.9h0M317.1 263.3h0M317.0 276.4h0M317.0 281.0h0M317.3 273.2h0M317.5 263.5h0M317.4 282.4h0M317.6 282.7h0M317.6 271.9h0M317.6 262.4h0M318.0 283.3h0M318.2 268.2h0M318.1 267.4h0M318.1 281.1h0M318.2 262.8h0M318.2 282.1h0M318.2 276.9h0M318.3 281.1h0M318.4 265.8h0M318.3 261.7h0M318.4 263.2h0M318.5 262.4h0M318.6 264.3h0M318.7 261.7h0M318.8 262.4h0M318.8 277.8h0M318.9 275.4h0M319.2 278.6h0M319.2 266.3h0M319.1 283.3h0M319.3 269.9h0M319.5 271.8h0M319.4 273.7h0M319.5 265.4h0M319.4 271.1h0M319.3 262.0h0M319.4 265.0h0M319.6 270.3h0M319.5 269.8h0M319.7 265.3h0M319.7 266.9h0M320.0 269.3h0M319.8 265.4h0M320.2 260.6h0M320.0 268.3h0M320.1 260.6h0M320.1 283.3h0M320.2 261.8h0M320.3 276.2h0M320.4 266.8h0M320.4 275.2h0M320.6 276.8h0M320.5 263.6h0M320.6 264.3h0M320.5 274.2h0M320.9 262.3h0M321.2 272.1h0M321.1 275.9h0M321.2 270.3h0M321.3 268.8h0M321.5 283.0h0M321.6 281.3h0M322.0 271.9h0M322.2 270.4h0M322.0 281.3h0M322.1 275.9h0M322.3 272.4h0M322.3 282.9h0M322.4 268.6h0M322.5 279.9h0M322.7 267.7h0M322.6 269.1h0M322.9 261.5h0M322.8 263.0h0M322.9 274.3h0M323.2 267.5h0M323.2 276.6h0M323.0 278.4h0M323.0 266.9h0M323.4 268.1h0M323.3 261.8h0M323.3 274.3h0M323.4 279.3h0M323.6 274.7h0M323.6 282.9h0M324.0 279.8h0M324.1 260.6h0M324.3 265.3h0M324.4 262.0h0M324.5 261.6h0M324.6 268.8h0M324.7 271.4h0M324.7 271.6h0M324.6 271.0h0M324.6 259.0h0M324.9 276.4h0M324.9 267.5h0M325.1 275.4h0M325.1 280.6h0M325.0 277.0h0M325.4 271.2h0M325.3 261.5h0M325.3 271.9h0M325.5 274.7h0M325.9 263.5h0M325.8 267.2h0M325.9 263.3h0M326.2 261.7h0M326.1 268.1h0M326.4 260.9h0M326.4 281.4h0M326.6 276.6h0M326.5 273.9h0M326.6 279.9h0M326.8 270.9h0M327.1 272.0h0M327.1 265.0h0M327.1 265.8h0M327.0 261.8h0M327.4 270.1h0M327.4 268.4h0M328.0 271.6h0M327.9 272.2h0M327.8 264.9h0M328.0 271.9h0M328.0 262.6h0M327.9 271.9h0M328.3 271.6h0M328.4 278.7h0M328.5 270.8h0M328.6 270.1h0M328.7 258.6h0M328.7 258.1h0M328.6 262.5h0M329.0 276.8h0M329.3 277.4h0M329.3 275.5h0M329.4 267.7h0M329.9 273.5h0M330.0 273.6h0M330.3 280.0h0M330.5 278.1h0M330.5 275.5h0M330.7 257.6h0M330.9 261.9h0M330.8 265.0h0M331.1 262.6h0M331.3 256.0h0M331.4 269.3h0M331.3 268.1h0M331.5 270.4h0M331.3 275.7h0M331.5 279.6h0M332.1 261.2h0M332.4 273.9h0M332.7 276.9h0M332.8 262.9h0M332.8 279.7h0M333.0 278.1h0M333.1 271.8h0M333.4 262.4h0M334.0 251.4h0M333.9 265.6h0M333.8 277.2h0M333.8 265.0h0M334.0 251.0h0M334.0 277.8h0M334.2 273.9h0M334.5 250.0h0M334.3 267.3h0M334.5 278.7h0M334.9 268.4h0M335.1 249.8h0M335.1 259.7h0M335.0 274.1h0M335.1 253.1h0M335.0 250.0h0M335.4 277.7h0M335.3 263.1h0M335.7 273.2h0M335.6 272.8h0M335.7 270.8h0M335.7 273.7h0M335.8 252.0h0M335.9 250.3h0M336.2 252.3h0M336.2 248.9h0M336.0 257.9h0M336.7 276.2h0M337.0 256.7h0M337.1 269.1h0M337.0 273.3h0M337.5 261.1h0M337.4 268.4h0M337.4 256.3h0M337.9 270.6h0M338.1 272.3h0M338.0 268.1h0M338.4 266.9h0M339.0 260.1h0M339.1 267.6h0M339.1 248.7h0M339.5 271.0h0M339.3 270.8h0M339.5 264.1h0M339.8 270.2h0M340.7 264.3h0M340.9 252.4h0M341.4 268.8h0M342.4 263.0h0M342.8 261.9h0M342.9 260.6h0M343.2 256.1h0M343.2 256.9h0M343.0 268.9h0M343.7 265.8h0M343.7 252.5h0M343.6 251.3h0M344.1 251.7h0M344.8 247.9h0M345.0 264.0h0M345.3 251.9h0M345.7 246.5h0M346.0 256.1h0M345.9 247.9h0M345.8 264.1h0M346.2 254.9h0M346.1 256.3h0M346.6 247.2h0M346.9 258.1h0M347.3 250.4h0M347.7 243.0h0M347.6 251.6h0M347.8 242.7h0M72.7 167.7h0M76.1 177.9h0M74.5 187.8h0M87.5 182.2h0M93.9 183.0h0M104.7 184.4h0M95.6 190.4h0M87.2 193.4h0M95.6 195.2h0M102.0 196.0h0M108.9 196.6h0M99.8 199.0h0M101.0 198.2h0M105.4 202.1h0M116.4 201.2h0M112.1 203.6h0M116.5 206.3h0M109.7 208.2h0M111.3 208.1h0M110.2 214.5h0M116.1 214.1h0M117.3 213.8h0M124.6 218.1h0M103.4 226.6h0M108.2 227.8h0M108.5 232.6h0M116.6 235.6h0M121.7 226.1h0M124.7 225.0h0M126.5 225.7h0M120.9 230.0h0M121.7 231.3h0M130.8 229.1h0M131.0 230.4h0M125.6 232.4h0M134.7 231.3h0M125.6 236.0h0M129.0 235.6h0M131.2 236.0h0M132.9 236.5h0M134.7 234.7h0M136.4 237.3h0M138.1 237.8h0M119.8 241.3h0M123.6 241.2h0M126.2 244.5h0M130.9 243.9h0M133.2 243.6h0M135.9 245.4h0M132.1 248.3h0M130.6 250.1h0M132.7 252.7h0M125.0 253.6h0M133.2 258.0h0M136.8 251.8h0M135.6 240.7h0M138.5 240.7h0M141.4 241.3h0M142.6 243.0h0M139.7 246.6h0M140.3 248.3h0M139.1 250.1h0M142.6 264.1h0M146.1 267.7h0M144.1 236.7h0M155.2 239.8h0M160.1 249.2h0M187.2 296.1h0M420.5 173.1h0M423.4 179.5h0M427.3 178.1h0M405.6 192.6h0M410.5 191.0h0M412.6 188.7h0M415.2 188.4h0M417.4 191.7h0M420.5 191.7h0M413.5 194.2h0M413.2 200.2h0M385.3 202.2h0M385.5 207.4h0M399.1 204.8h0M404.3 205.5h0M406.9 208.0h0M428.6 205.1h0M415.2 212.0h0M391.2 214.3h0M390.2 216.2h0M392.5 216.0h0M396.8 216.5h0M451.3 221.1h0M380.7 222.2h0M383.3 223.5h0M388.1 221.8h0M389.9 223.7h0M383.9 226.5h0M395.1 226.5h0M387.2 231.0h0M429.7 229.4h0M382.4 233.6h0M365.4 219.4h0M377.6 218.4h0M379.7 222.1h0M376.0 224.7h0M348.1 222.4h0M349.7 224.2h0M348.4 226.0h0M362.4 227.7h0M336.0 236.6h0M377.6 230.9h0M377.1 234.5h0M380.7 236.4h0M374.5 241.0h0M378.1 240.0h0M380.4 245.5h0M352.1 229.2h0M354.9 232.0h0M356.6 230.6h0M362.3 228.3h0M371.3 228.6h0M343.1 231.7h0M342.8 235.8h0M368.9 233.9h0M363.9 236.4h0M362.7 238.6h0M367.6 236.7h0M366.7 239.2h0M367.3 240.4h0M372.0 237.9h0M375.1 240.7h0M353.0 239.2h0M356.8 239.5h0M352.1 243.2h0M354.3 242.3h0M355.5 243.8h0M358.0 242.9h0M360.5 242.3h0M364.2 241.0h0M365.5 242.3h0M368.6 242.9h0M368.6 244.4h0M342.5 242.9h0M346.8 243.2h0M347.1 244.4h0M340.3 246.0h0M345.3 247.2h0M346.2 248.5h0M351.2 246.6h0M359.2 246.6h0M363.3 247.2h0M366.1 247.6h0M354.0 249.1h0M355.5 251.0h0M357.7 251.5h0M360.5 251.6h0M362.0 251.3h0M361.7 252.8h0M374.5 248.5h0M375.7 249.4h0M369.8 252.2h0M370.4 254.7h0M365.9 255.9h0M348.1 251.6h0M349.0 252.8h0M347.4 254.1h0M349.3 255.3h0M351.8 254.1h0M354.3 255.3h0M356.4 256.6h0M358.3 255.3h0M358.0 259.0h0M349.0 263.7h0M380.8 245.5h0M392.7 252.1h0M382.1 256.2h0M385.0 264.0h0M382.0 256.4h0M370.3 255.1h0M366.9 265.2h0M361.3 270.8h0M358.3 259.4h0M348.8 264.1h0M346.2 266.3h0M344.9 267.2h0M349.7 268.4h0M352.7 271.0h0M348.4 272.8h0M350.1 274.5h0M353.5 276.2h0M350.5 287.0h0M338.9 277.1h0M335.4 280.5h0M335.8 236.7h0M337.3 241.3h0M337.3 242.6h0M341.7 235.7h0M341.7 242.9h0M332.7 246.0h0M333.0 247.5h0M337.7 246.0h0M339.5 246.3h0M327.7 249.7h0M334.6 249.4h0M322.9 288.4h0M333.2 288.8h0M327.5 250.3h0M420.6 172.8h0M464.6 153.5h0M374.8 194.1h0" stroke="#000" stroke-width="3.6" stroke-linecap="round" fill="none"/>
<circle cx="550.1" cy="47.5" r="1.55" fill="#ff0000"/>
<text transform="translate(536.80,47.30) scale(1,1.0)" font-size="9.6" fill="#ff0000" text-anchor="start">MMP12</text>
<line x1="526.4" y1="70.1" x2="528.6" y2="64.0" stroke="#ff0000" stroke-width="0.8"/>
<circle cx="528.6" cy="64.0" r="1.55" fill="#ff0000"/>
<text transform="translate(498.90,76.90) scale(1,1.0)" font-size="9.6" fill="#ff0000" text-anchor="start">NPPB</text>
<line x1="441.1" y1="102.3" x2="441.5" y2="108.5" stroke="#ff0000" stroke-width="0.8"/>
<circle cx="441.5" cy="108.5" r="1.55" fill="#ff0000"/>
<text transform="translate(409.20,103.30) scale(1,1.0)" font-size="9.6" fill="#ff0000" text-anchor="start">TNNT2</text>
<line x1="475.8" y1="115.3" x2="473.2" y2="127.0" stroke="#ff0000" stroke-width="0.8"/>
<circle cx="473.2" cy="127.0" r="1.55" fill="#ff0000"/>
<text transform="translate(477.70,117.50) scale(1,1.0)" font-size="9.6" fill="#ff0000" text-anchor="start">DNAJB9</text>
<line x1="425.7" y1="127.4" x2="428.4" y2="133.8" stroke="#ff0000" stroke-width="0.8"/>
<circle cx="428.4" cy="133.8" r="1.55" fill="#ff0000"/>
<text transform="translate(393.90,129.00) scale(1,1.0)" font-size="9.6" fill="#ff0000" text-anchor="start">ARL5B</text>
<line x1="457.2" y1="129.5" x2="466.1" y2="134.2" stroke="#ff0000" stroke-width="0.8"/>
<circle cx="466.1" cy="134.2" r="1.55" fill="#ff0000"/>
<text transform="translate(434.70,129.00) scale(1,1.0)" font-size="9.6" fill="#ff0000" text-anchor="start">REG3A</text>
<line x1="506.0" y1="135.1" x2="497.6" y2="140.9" stroke="#ff0000" stroke-width="0.8"/>
<circle cx="497.6" cy="140.9" r="1.55" fill="#ff0000"/>
<text transform="translate(495.00,134.50) scale(1,1.0)" font-size="9.6" fill="#ff0000" text-anchor="start">GDF15</text>
<line x1="473.7" y1="142.6" x2="467.0" y2="138.5" stroke="#ff0000" stroke-width="0.8"/>
<circle cx="467.0" cy="138.5" r="1.55" fill="#ff0000"/>
<text transform="translate(463.70,151.00) scale(1,1.0)" font-size="9.6" fill="#ff0000" text-anchor="start">LEAP2</text>
<line x1="417.7" y1="151.6" x2="424.7" y2="146.8" stroke="#ff0000" stroke-width="0.8"/>
<circle cx="424.7" cy="146.8" r="1.55" fill="#ff0000"/>
<text transform="translate(388.00,159.80) scale(1,1.0)" font-size="9.6" fill="#ff0000" text-anchor="start">CREBBP</text>
<line x1="59.7" y1="139.3" x2="52.0" y2="143.6" stroke="#ff0000" stroke-width="0.8"/>
<circle cx="52.0" cy="143.6" r="1.55" fill="#ff0000"/>
<text transform="translate(53.00,138.90) scale(1,1.0)" font-size="9.6" fill="#ff0000" text-anchor="start">VOPP1</text>
<rect x="37.5" y="378.10" width="177.3" height="12.86" fill="#e3e3e3"/>
<rect x="37.5" y="403.82" width="177.3" height="12.86" fill="#e3e3e3"/>
<rect x="37.5" y="429.54" width="177.3" height="12.86" fill="#e3e3e3"/>
<rect x="37.5" y="455.26" width="177.3" height="12.86" fill="#e3e3e3"/>
<rect x="37.5" y="480.98" width="177.3" height="12.86" fill="#e3e3e3"/>
<rect x="37.5" y="506.70" width="177.3" height="12.86" fill="#e3e3e3"/>
<line x1="114.5" y1="376.8" x2="114.5" y2="521.5" stroke="#6a6a6a" stroke-width="0.9"/>
<line x1="37.5" y1="376.8" x2="37.5" y2="521.9" stroke="#555" stroke-width="0.9"/>
<line x1="37.1" y1="521.5" x2="214.8" y2="521.5" stroke="#555" stroke-width="0.9"/>
<text transform="translate(34.90,386.73) scale(1,1.06)" font-size="6.1" fill="#555" text-anchor="end">MMP12</text>
<line x1="35.5" y1="384.53" x2="37.5" y2="384.53" stroke="#555" stroke-width="0.6"/>
<text transform="translate(34.90,399.59) scale(1,1.06)" font-size="6.1" fill="#555" text-anchor="end">NPPB</text>
<line x1="35.5" y1="397.39" x2="37.5" y2="397.39" stroke="#555" stroke-width="0.6"/>
<text transform="translate(34.90,412.45) scale(1,1.06)" font-size="6.1" fill="#555" text-anchor="end">TNNT2</text>
<line x1="35.5" y1="410.25" x2="37.5" y2="410.25" stroke="#555" stroke-width="0.6"/>
<text transform="translate(34.90,425.31) scale(1,1.06)" font-size="6.1" fill="#555" text-anchor="end">DNAJB9</text>
<line x1="35.5" y1="423.11" x2="37.5" y2="423.11" stroke="#555" stroke-width="0.6"/>
<text transform="translate(34.90,438.17) scale(1,1.06)" font-size="6.1" fill="#555" text-anchor="end">ARL5B</text>
<line x1="35.5" y1="435.97" x2="37.5" y2="435.97" stroke="#555" stroke-width="0.6"/>
<text transform="translate(34.90,451.03) scale(1,1.06)" font-size="6.1" fill="#555" text-anchor="end">REG3A</text>
<line x1="35.5" y1="448.83" x2="37.5" y2="448.83" stroke="#555" stroke-width="0.6"/>
<text transform="translate(34.90,463.89) scale(1,1.06)" font-size="6.1" fill="#555" text-anchor="end">LEAP2</text>
<line x1="35.5" y1="461.69" x2="37.5" y2="461.69" stroke="#555" stroke-width="0.6"/>
<text transform="translate(34.90,476.75) scale(1,1.06)" font-size="6.1" fill="#555" text-anchor="end">GDF15</text>
<line x1="35.5" y1="474.55" x2="37.5" y2="474.55" stroke="#555" stroke-width="0.6"/>
<text transform="translate(34.90,489.61) scale(1,1.06)" font-size="6.1" fill="#555" text-anchor="end">VOPP1</text>
<line x1="35.5" y1="487.41" x2="37.5" y2="487.41" stroke="#555" stroke-width="0.6"/>
<text transform="translate(34.90,502.47) scale(1,1.06)" font-size="6.1" fill="#555" text-anchor="end">CREBBP</text>
<line x1="35.5" y1="500.27" x2="37.5" y2="500.27" stroke="#555" stroke-width="0.6"/>
<text transform="translate(34.90,515.33) scale(1,1.06)" font-size="6.1" fill="#555" text-anchor="end">NOTUM</text>
<line x1="35.5" y1="513.13" x2="37.5" y2="513.13" stroke="#555" stroke-width="0.6"/>
<line x1="79.6" y1="521.5" x2="79.6" y2="523.4" stroke="#555" stroke-width="0.6"/>
<text transform="translate(79.60,529.80) scale(1,1.06)" font-size="8.6" fill="#555" text-anchor="middle">0.8</text>
<line x1="114.1" y1="521.5" x2="114.1" y2="523.4" stroke="#555" stroke-width="0.6"/>
<text transform="translate(114.10,529.80) scale(1,1.06)" font-size="8.6" fill="#555" text-anchor="middle">1.0</text>
<line x1="142.3" y1="521.5" x2="142.3" y2="523.4" stroke="#555" stroke-width="0.6"/>
<text transform="translate(142.30,529.80) scale(1,1.06)" font-size="8.6" fill="#555" text-anchor="middle">1.2</text>
<line x1="166.2" y1="521.5" x2="166.2" y2="523.4" stroke="#555" stroke-width="0.6"/>
<text transform="translate(166.20,529.80) scale(1,1.06)" font-size="8.6" fill="#555" text-anchor="middle">1.4</text>
<line x1="187.0" y1="521.5" x2="187.0" y2="523.4" stroke="#555" stroke-width="0.6"/>
<text transform="translate(187.00,529.80) scale(1,1.06)" font-size="8.6" fill="#555" text-anchor="middle">1.6</text>
<line x1="205.2" y1="521.5" x2="205.2" y2="523.4" stroke="#555" stroke-width="0.6"/>
<text transform="translate(205.20,529.80) scale(1,1.06)" font-size="8.6" fill="#555" text-anchor="middle">1.8</text>
<line x1="141.9" y1="382.48" x2="171.3" y2="382.48" stroke="#7adccd" stroke-width="1.05"/>
<circle cx="156.5" cy="382.48" r="1.35" fill="#4fd0bc"/>
<line x1="146.8" y1="384.53" x2="186.9" y2="384.53" stroke="#f2707d" stroke-width="1.05"/>
<circle cx="166.9" cy="384.53" r="1.35" fill="#ff3a52"/>
<line x1="139.9" y1="386.58" x2="199.1" y2="386.58" stroke="#5b6480" stroke-width="1.05"/>
<circle cx="169.2" cy="386.58" r="1.35" fill="#2b385c"/>
<line x1="139.6" y1="395.34" x2="168.2" y2="395.34" stroke="#7adccd" stroke-width="1.05"/>
<circle cx="153.9" cy="395.34" r="1.35" fill="#4fd0bc"/>
<line x1="153.2" y1="397.39" x2="191.0" y2="397.39" stroke="#f2707d" stroke-width="1.05"/>
<circle cx="172.0" cy="397.39" r="1.35" fill="#ff3a52"/>
<line x1="150.8" y1="399.44" x2="206.5" y2="399.44" stroke="#5b6480" stroke-width="1.05"/>
<circle cx="178.9" cy="399.44" r="1.35" fill="#2b385c"/>
<line x1="131.2" y1="408.20" x2="154.0" y2="408.20" stroke="#b6ede5" stroke-width="1.05"/>
<circle cx="142.7" cy="408.20" r="1.35" fill="#4fd0bc"/>
<line x1="130.1" y1="410.25" x2="160.4" y2="410.25" stroke="#f8b0b8" stroke-width="1.05"/>
<circle cx="145.5" cy="410.25" r="1.35" fill="#ff3a52"/>
<line x1="131.9" y1="412.30" x2="174.1" y2="412.30" stroke="#5b6480" stroke-width="1.05"/>
<circle cx="152.9" cy="412.30" r="1.35" fill="#2b385c"/>
<line x1="132.9" y1="421.06" x2="160.8" y2="421.06" stroke="#b6ede5" stroke-width="1.05"/>
<circle cx="146.8" cy="421.06" r="1.35" fill="#4fd0bc"/>
<line x1="124.5" y1="423.11" x2="162.5" y2="423.11" stroke="#f8b0b8" stroke-width="1.05"/>
<circle cx="143.4" cy="423.11" r="1.35" fill="#ff3a52"/>
<line x1="100.0" y1="425.16" x2="157.5" y2="425.16" stroke="#5b6480" stroke-width="1.05"/>
<circle cx="128.6" cy="425.16" r="1.1" fill="#fff" stroke="#2b385c" stroke-width="0.6"/>
<line x1="129.4" y1="433.92" x2="152.6" y2="433.92" stroke="#7adccd" stroke-width="1.05"/>
<circle cx="140.8" cy="433.92" r="1.35" fill="#4fd0bc"/>
<line x1="132.4" y1="435.97" x2="163.6" y2="435.97" stroke="#f8b0b8" stroke-width="1.05"/>
<circle cx="147.8" cy="435.97" r="1.35" fill="#ff3a52"/>
<line x1="115.8" y1="438.02" x2="164.8" y2="438.02" stroke="#7d86a0" stroke-width="1.05"/>
<circle cx="140.3" cy="438.02" r="1.35" fill="#2b385c"/>
<line x1="132.1" y1="446.78" x2="159.9" y2="446.78" stroke="#7adccd" stroke-width="1.05"/>
<circle cx="145.9" cy="446.78" r="1.35" fill="#4fd0bc"/>
<line x1="133.3" y1="448.83" x2="171.8" y2="448.83" stroke="#f2707d" stroke-width="1.05"/>
<circle cx="152.6" cy="448.83" r="1.35" fill="#ff3a52"/>
<line x1="120.1" y1="450.88" x2="178.8" y2="450.88" stroke="#b3b8c5" stroke-width="1.05"/>
<circle cx="149.2" cy="450.88" r="1.35" fill="#2b385c"/>
<line x1="132.1" y1="459.64" x2="160.1" y2="459.64" stroke="#7adccd" stroke-width="1.05"/>
<circle cx="146.1" cy="459.64" r="1.35" fill="#4fd0bc"/>
<line x1="120.1" y1="461.69" x2="159.9" y2="461.69" stroke="#f2707d" stroke-width="1.05"/>
<circle cx="139.9" cy="461.69" r="1.35" fill="#ff3a52"/>
<line x1="114.5" y1="463.74" x2="173.9" y2="463.74" stroke="#8a92a8" stroke-width="1.05"/>
<circle cx="144.1" cy="463.74" r="1.35" fill="#2b385c"/>
<line x1="134.2" y1="472.50" x2="166.0" y2="472.50" stroke="#7adccd" stroke-width="1.05"/>
<circle cx="150.1" cy="472.50" r="1.35" fill="#4fd0bc"/>
<line x1="130.1" y1="474.55" x2="173.9" y2="474.55" stroke="#f2707d" stroke-width="1.05"/>
<circle cx="152.0" cy="474.55" r="1.35" fill="#ff3a52"/>
<line x1="114.4" y1="476.60" x2="180.9" y2="476.60" stroke="#5b6480" stroke-width="1.05"/>
<circle cx="147.3" cy="476.60" r="1.35" fill="#2b385c"/>
<line x1="63.3" y1="485.36" x2="95.0" y2="485.36" stroke="#7adccd" stroke-width="1.05"/>
<circle cx="79.3" cy="485.36" r="1.35" fill="#4fd0bc"/>
<line x1="56.3" y1="487.41" x2="99.3" y2="487.41" stroke="#f2707d" stroke-width="1.05"/>
<circle cx="77.9" cy="487.41" r="1.35" fill="#ff3a52"/>
<line x1="50.1" y1="489.46" x2="114.4" y2="489.46" stroke="#5b6480" stroke-width="1.05"/>
<circle cx="81.8" cy="489.46" r="1.35" fill="#2b385c"/>
<line x1="128.4" y1="498.22" x2="152.2" y2="498.22" stroke="#7adccd" stroke-width="1.05"/>
<circle cx="140.5" cy="498.22" r="1.35" fill="#4fd0bc"/>
<line x1="132.1" y1="500.27" x2="164.8" y2="500.27" stroke="#f2707d" stroke-width="1.05"/>
<circle cx="148.5" cy="500.27" r="1.35" fill="#ff3a52"/>
<line x1="109.1" y1="502.32" x2="161.3" y2="502.32" stroke="#5b6480" stroke-width="1.05"/>
<circle cx="135.4" cy="502.32" r="1.1" fill="#fff" stroke="#2b385c" stroke-width="0.6"/>
<line x1="84.0" y1="511.08" x2="110.7" y2="511.08" stroke="#7adccd" stroke-width="1.05"/>
<circle cx="97.2" cy="511.08" r="1.35" fill="#4fd0bc"/>
<line x1="54.1" y1="513.13" x2="90.6" y2="513.13" stroke="#f2707d" stroke-width="1.05"/>
<circle cx="72.3" cy="513.13" r="1.35" fill="#ff3a52"/>
<line x1="45.3" y1="515.18" x2="100.4" y2="515.18" stroke="#5b6480" stroke-width="1.05"/>
<circle cx="72.8" cy="515.18" r="1.35" fill="#2b385c"/>
<text transform="translate(126.00,372.60) scale(1,1.06)" font-size="9.07" fill="#000" text-anchor="middle">Incident Coronary Heart Disease</text>
<text transform="translate(125.80,538.60) scale(1,1.06)" font-size="8.6" fill="#000" text-anchor="middle">Hazard Ratio</text>
<text x="0" y="0" font-size="8.8" text-anchor="middle" transform="translate(7.6,448.2) rotate(-90)">Protein</text>
<text transform="translate(2.80,360.30) scale(1,1.08)" font-size="15.4" fill="#000" text-anchor="start" font-weight="bold">B</text>
<text transform="translate(126.00,551.30) scale(1,1.06)" font-size="5.1" fill="#000" text-anchor="middle">Model</text>
<circle cx="87.6" cy="558.40" r="0.9" fill="#4fd0bc"/>
<text transform="translate(93.90,560.00) scale(1,1.06)" font-size="5.15" fill="#000" text-anchor="start">Primary</text>
<circle cx="87.6" cy="565.70" r="0.9" fill="#ff3a52"/>
<text transform="translate(93.90,567.30) scale(1,1.06)" font-size="5.15" fill="#000" text-anchor="start">Restricting follow-up to 10 years</text>
<circle cx="87.6" cy="573.00" r="0.9" fill="#2b385c"/>
<text transform="translate(93.90,574.60) scale(1,1.06)" font-size="5.15" fill="#000" text-anchor="start">Restricting follow-up to 5 years</text>
<rect x="272.5" y="378.10" width="177.0" height="12.86" fill="#e3e3e3"/>
<rect x="272.5" y="403.82" width="177.0" height="12.86" fill="#e3e3e3"/>
<rect x="272.5" y="429.54" width="177.0" height="12.86" fill="#e3e3e3"/>
<rect x="272.5" y="455.26" width="177.0" height="12.86" fill="#e3e3e3"/>
<rect x="272.5" y="480.98" width="177.0" height="12.86" fill="#e3e3e3"/>
<rect x="272.5" y="506.70" width="177.0" height="12.86" fill="#e3e3e3"/>
<line x1="358.5" y1="376.8" x2="358.5" y2="521.5" stroke="#6a6a6a" stroke-width="0.9"/>
<line x1="272.5" y1="376.8" x2="272.5" y2="521.9" stroke="#555" stroke-width="0.9"/>
<line x1="272.1" y1="521.5" x2="449.5" y2="521.5" stroke="#555" stroke-width="0.9"/>
<text transform="translate(269.90,386.73) scale(1,1.06)" font-size="6.1" fill="#555" text-anchor="end">MMP12</text>
<line x1="270.5" y1="384.53" x2="272.5" y2="384.53" stroke="#555" stroke-width="0.6"/>
<text transform="translate(269.90,399.59) scale(1,1.06)" font-size="6.1" fill="#555" text-anchor="end">NPPB</text>
<line x1="270.5" y1="397.39" x2="272.5" y2="397.39" stroke="#555" stroke-width="0.6"/>
<text transform="translate(269.90,412.45) scale(1,1.06)" font-size="6.1" fill="#555" text-anchor="end">TNNT2</text>
<line x1="270.5" y1="410.25" x2="272.5" y2="410.25" stroke="#555" stroke-width="0.6"/>
<text transform="translate(269.90,425.31) scale(1,1.06)" font-size="6.1" fill="#555" text-anchor="end">DNAJB9</text>
<line x1="270.5" y1="423.11" x2="272.5" y2="423.11" stroke="#555" stroke-width="0.6"/>
<text transform="translate(269.90,438.17) scale(1,1.06)" font-size="6.1" fill="#555" text-anchor="end">ARL5B</text>
<line x1="270.5" y1="435.97" x2="272.5" y2="435.97" stroke="#555" stroke-width="0.6"/>
<text transform="translate(269.90,451.03) scale(1,1.06)" font-size="6.1" fill="#555" text-anchor="end">REG3A</text>
<line x1="270.5" y1="448.83" x2="272.5" y2="448.83" stroke="#555" stroke-width="0.6"/>
<text transform="translate(269.90,463.89) scale(1,1.06)" font-size="6.1" fill="#555" text-anchor="end">LEAP2</text>
<line x1="270.5" y1="461.69" x2="272.5" y2="461.69" stroke="#555" stroke-width="0.6"/>
<text transform="translate(269.90,476.75) scale(1,1.06)" font-size="6.1" fill="#555" text-anchor="end">GDF15</text>
<line x1="270.5" y1="474.55" x2="272.5" y2="474.55" stroke="#555" stroke-width="0.6"/>
<text transform="translate(269.90,489.61) scale(1,1.06)" font-size="6.1" fill="#555" text-anchor="end">VOPP1</text>
<line x1="270.5" y1="487.41" x2="272.5" y2="487.41" stroke="#555" stroke-width="0.6"/>
<text transform="translate(269.90,502.47) scale(1,1.06)" font-size="6.1" fill="#555" text-anchor="end">CREBBP</text>
<line x1="270.5" y1="500.27" x2="272.5" y2="500.27" stroke="#555" stroke-width="0.6"/>
<text transform="translate(269.90,515.33) scale(1,1.06)" font-size="6.1" fill="#555" text-anchor="end">NOTUM</text>
<line x1="270.5" y1="513.13" x2="272.5" y2="513.13" stroke="#555" stroke-width="0.6"/>
<line x1="277.5" y1="521.5" x2="277.5" y2="523.4" stroke="#555" stroke-width="0.6"/>
<text transform="translate(277.50,529.80) scale(1,1.06)" font-size="8.6" fill="#555" text-anchor="middle">0.7</text>
<line x1="307.6" y1="521.5" x2="307.6" y2="523.4" stroke="#555" stroke-width="0.6"/>
<text transform="translate(307.60,529.80) scale(1,1.06)" font-size="8.6" fill="#555" text-anchor="middle">0.8</text>
<line x1="334.6" y1="521.5" x2="334.6" y2="523.4" stroke="#555" stroke-width="0.6"/>
<text transform="translate(334.60,529.80) scale(1,1.06)" font-size="8.6" fill="#555" text-anchor="middle">0.9</text>
<line x1="358.5" y1="521.5" x2="358.5" y2="523.4" stroke="#555" stroke-width="0.6"/>
<text transform="translate(358.50,529.80) scale(1,1.06)" font-size="8.6" fill="#555" text-anchor="middle">1.0</text>
<line x1="380.1" y1="521.5" x2="380.1" y2="523.4" stroke="#555" stroke-width="0.6"/>
<text transform="translate(380.10,529.80) scale(1,1.06)" font-size="8.6" fill="#555" text-anchor="middle">1.1</text>
<line x1="399.9" y1="521.5" x2="399.9" y2="523.4" stroke="#555" stroke-width="0.6"/>
<text transform="translate(399.90,529.80) scale(1,1.06)" font-size="8.6" fill="#555" text-anchor="middle">1.2</text>
<line x1="418.1" y1="521.5" x2="418.1" y2="523.4" stroke="#555" stroke-width="0.6"/>
<text transform="translate(418.10,529.80) scale(1,1.06)" font-size="8.6" fill="#555" text-anchor="middle">1.3</text>
<line x1="434.9" y1="521.5" x2="434.9" y2="523.4" stroke="#555" stroke-width="0.6"/>
<text transform="translate(434.90,529.80) scale(1,1.06)" font-size="8.6" fill="#555" text-anchor="middle">1.4</text>
<line x1="398.7" y1="382.48" x2="441.2" y2="382.48" stroke="#7adccd" stroke-width="1.05"/>
<circle cx="419.9" cy="382.48" r="1.35" fill="#4fd0bc"/>
<line x1="391.0" y1="384.53" x2="436.9" y2="384.53" stroke="#f2707d" stroke-width="1.05"/>
<circle cx="414.1" cy="384.53" r="1.35" fill="#ff3a52"/>
<line x1="388.2" y1="386.58" x2="436.5" y2="386.58" stroke="#5b6480" stroke-width="1.05"/>
<circle cx="412.3" cy="386.58" r="1.35" fill="#2b385c"/>
<line x1="395.3" y1="395.34" x2="436.9" y2="395.34" stroke="#b6ede5" stroke-width="1.05"/>
<circle cx="415.8" cy="395.34" r="1.35" fill="#4fd0bc"/>
<line x1="378.2" y1="397.39" x2="426.0" y2="397.39" stroke="#f2707d" stroke-width="1.05"/>
<circle cx="401.8" cy="397.39" r="1.35" fill="#ff3a52"/>
<line x1="386.9" y1="399.44" x2="433.4" y2="399.44" stroke="#5b6480" stroke-width="1.05"/>
<circle cx="410.1" cy="399.44" r="1.35" fill="#2b385c"/>
<line x1="383.1" y1="408.20" x2="416.4" y2="408.20" stroke="#b6ede5" stroke-width="1.05"/>
<circle cx="400.1" cy="408.20" r="1.35" fill="#4fd0bc"/>
<line x1="361.9" y1="410.25" x2="402.7" y2="410.25" stroke="#f2707d" stroke-width="1.05"/>
<circle cx="382.2" cy="410.25" r="1.35" fill="#ff3a52"/>
<line x1="393.9" y1="412.30" x2="430.7" y2="412.30" stroke="#5b6480" stroke-width="1.05"/>
<circle cx="412.3" cy="412.30" r="1.35" fill="#2b385c"/>
<line x1="385.7" y1="421.06" x2="426.0" y2="421.06" stroke="#7adccd" stroke-width="1.05"/>
<circle cx="405.9" cy="421.06" r="1.35" fill="#4fd0bc"/>
<line x1="382.0" y1="423.11" x2="424.8" y2="423.11" stroke="#f8b0b8" stroke-width="1.05"/>
<circle cx="403.2" cy="423.11" r="1.35" fill="#ff3a52"/>
<line x1="376.4" y1="425.16" x2="422.5" y2="425.16" stroke="#5b6480" stroke-width="1.05"/>
<circle cx="399.6" cy="425.16" r="1.35" fill="#2b385c"/>
<line x1="380.5" y1="433.92" x2="413.7" y2="433.92" stroke="#7adccd" stroke-width="1.05"/>
<circle cx="397.1" cy="433.92" r="1.35" fill="#4fd0bc"/>
<line x1="376.1" y1="435.97" x2="412.3" y2="435.97" stroke="#f8b0b8" stroke-width="1.05"/>
<circle cx="394.1" cy="435.97" r="1.35" fill="#ff3a52"/>
<line x1="377.3" y1="438.02" x2="418.1" y2="438.02" stroke="#8a92a8" stroke-width="1.05"/>
<circle cx="397.8" cy="438.02" r="1.35" fill="#2b385c"/>
<line x1="384.3" y1="446.78" x2="424.6" y2="446.78" stroke="#7adccd" stroke-width="1.05"/>
<circle cx="404.5" cy="446.78" r="1.35" fill="#4fd0bc"/>
<line x1="379.9" y1="448.83" x2="422.3" y2="448.83" stroke="#f2707d" stroke-width="1.05"/>
<circle cx="401.0" cy="448.83" r="1.35" fill="#ff3a52"/>
<line x1="382.2" y1="450.88" x2="427.6" y2="450.88" stroke="#b3b8c5" stroke-width="1.05"/>
<circle cx="405.0" cy="450.88" r="1.35" fill="#2b385c"/>
<line x1="384.3" y1="459.64" x2="425.0" y2="459.64" stroke="#7adccd" stroke-width="1.05"/>
<circle cx="404.8" cy="459.64" r="1.35" fill="#4fd0bc"/>
<line x1="376.1" y1="461.69" x2="419.0" y2="461.69" stroke="#f2707d" stroke-width="1.05"/>
<circle cx="397.4" cy="461.69" r="1.35" fill="#ff3a52"/>
<line x1="381.2" y1="463.74" x2="426.9" y2="463.74" stroke="#8a92a8" stroke-width="1.05"/>
<circle cx="403.9" cy="463.74" r="1.35" fill="#2b385c"/>
<line x1="387.3" y1="472.50" x2="433.7" y2="472.50" stroke="#7adccd" stroke-width="1.05"/>
<circle cx="410.6" cy="472.50" r="1.35" fill="#4fd0bc"/>
<line x1="381.2" y1="474.55" x2="429.9" y2="474.55" stroke="#f2707d" stroke-width="1.05"/>
<circle cx="405.7" cy="474.55" r="1.35" fill="#ff3a52"/>
<line x1="381.2" y1="476.60" x2="434.8" y2="476.60" stroke="#5b6480" stroke-width="1.05"/>
<circle cx="408.0" cy="476.60" r="1.35" fill="#2b385c"/>
<line x1="285.1" y1="485.36" x2="330.7" y2="485.36" stroke="#7adccd" stroke-width="1.05"/>
<circle cx="307.6" cy="485.36" r="1.35" fill="#4fd0bc"/>
<line x1="280.2" y1="487.41" x2="329.0" y2="487.41" stroke="#f2707d" stroke-width="1.05"/>
<circle cx="304.4" cy="487.41" r="1.35" fill="#ff3a52"/>
<line x1="284.3" y1="489.46" x2="336.8" y2="489.46" stroke="#5b6480" stroke-width="1.05"/>
<circle cx="310.5" cy="489.46" r="1.35" fill="#2b385c"/>
<line x1="379.1" y1="498.22" x2="413.7" y2="498.22" stroke="#7adccd" stroke-width="1.05"/>
<circle cx="396.6" cy="498.22" r="1.35" fill="#4fd0bc"/>
<line x1="378.5" y1="500.27" x2="415.0" y2="500.27" stroke="#f2707d" stroke-width="1.05"/>
<circle cx="396.9" cy="500.27" r="1.35" fill="#ff3a52"/>
<line x1="373.8" y1="502.32" x2="415.5" y2="502.32" stroke="#5b6480" stroke-width="1.05"/>
<circle cx="394.5" cy="502.32" r="1.35" fill="#2b385c"/>
<line x1="314.9" y1="511.08" x2="353.5" y2="511.08" stroke="#7adccd" stroke-width="1.05"/>
<circle cx="334.2" cy="511.08" r="1.35" fill="#4fd0bc"/>
<line x1="323.2" y1="513.13" x2="364.0" y2="513.13" stroke="#f2707d" stroke-width="1.05"/>
<circle cx="343.5" cy="513.13" r="1.1" fill="#fff" stroke="#ff3a52" stroke-width="0.6"/>
<line x1="319.0" y1="515.18" x2="363.6" y2="515.18" stroke="#5b6480" stroke-width="1.05"/>
<circle cx="341.2" cy="515.18" r="1.1" fill="#fff" stroke="#2b385c" stroke-width="0.6"/>
<text transform="translate(361.00,372.60) scale(1,1.06)" font-size="9.07" fill="#000" text-anchor="middle">Incident Coronary Heart Disease</text>
<text transform="translate(361.00,538.60) scale(1,1.06)" font-size="8.6" fill="#000" text-anchor="middle">Hazard Ratio</text>
<text x="0" y="0" font-size="8.8" text-anchor="middle" transform="translate(242.0,448.2) rotate(-90)">Protein</text>
<text transform="translate(233.20,360.00) scale(1,1.08)" font-size="15.4" fill="#000" text-anchor="start" font-weight="bold">C</text>
<text transform="translate(361.00,551.30) scale(1,1.06)" font-size="5.1" fill="#000" text-anchor="middle">Model</text>
<circle cx="333.1" cy="558.40" r="0.9" fill="#4fd0bc"/>
<text transform="translate(339.90,560.00) scale(1,1.06)" font-size="5.15" fill="#000" text-anchor="start">Primary</text>
<circle cx="333.1" cy="565.70" r="0.9" fill="#ff3a52"/>
<text transform="translate(339.90,567.30) scale(1,1.06)" font-size="5.15" fill="#000" text-anchor="start">+ hs-cTnT, NT-proBNP</text>
<circle cx="333.1" cy="573.00" r="0.9" fill="#2b385c"/>
<text transform="translate(339.90,574.60) scale(1,1.06)" font-size="5.15" fill="#000" text-anchor="start">+ CRP, IL-6</text>
<rect x="506.5" y="378.20" width="177.70000000000005" height="13.83" fill="#e3e3e3"/>
<rect x="506.5" y="405.86" width="177.70000000000005" height="13.83" fill="#e3e3e3"/>
<rect x="506.5" y="433.52" width="177.70000000000005" height="13.83" fill="#e3e3e3"/>
<rect x="506.5" y="461.18" width="177.70000000000005" height="13.83" fill="#e3e3e3"/>
<rect x="506.5" y="488.84" width="177.70000000000005" height="13.83" fill="#e3e3e3"/>
<rect x="506.5" y="516.50" width="177.70000000000005" height="13.83" fill="#e3e3e3"/>
<line x1="591.5" y1="376.9" x2="591.5" y2="531.5" stroke="#6a6a6a" stroke-width="0.9"/>
<line x1="506.5" y1="376.9" x2="506.5" y2="531.9" stroke="#555" stroke-width="0.9"/>
<line x1="506.1" y1="531.5" x2="684.2" y2="531.5" stroke="#555" stroke-width="0.9"/>
<text transform="translate(503.90,387.31) scale(1,1.06)" font-size="6.1" fill="#555" text-anchor="end">MMP12</text>
<line x1="504.5" y1="385.12" x2="506.5" y2="385.12" stroke="#555" stroke-width="0.6"/>
<text transform="translate(503.90,401.14) scale(1,1.06)" font-size="6.1" fill="#555" text-anchor="end">NPPB</text>
<line x1="504.5" y1="398.94" x2="506.5" y2="398.94" stroke="#555" stroke-width="0.6"/>
<text transform="translate(503.90,414.97) scale(1,1.06)" font-size="6.1" fill="#555" text-anchor="end">TNNT2</text>
<line x1="504.5" y1="412.77" x2="506.5" y2="412.77" stroke="#555" stroke-width="0.6"/>
<text transform="translate(503.90,428.81) scale(1,1.06)" font-size="6.1" fill="#555" text-anchor="end">DNAJB9</text>
<line x1="504.5" y1="426.61" x2="506.5" y2="426.61" stroke="#555" stroke-width="0.6"/>
<text transform="translate(503.90,442.63) scale(1,1.06)" font-size="6.1" fill="#555" text-anchor="end">ARL5B</text>
<line x1="504.5" y1="440.44" x2="506.5" y2="440.44" stroke="#555" stroke-width="0.6"/>
<text transform="translate(503.90,456.46) scale(1,1.06)" font-size="6.1" fill="#555" text-anchor="end">REG3A</text>
<line x1="504.5" y1="454.26" x2="506.5" y2="454.26" stroke="#555" stroke-width="0.6"/>
<text transform="translate(503.90,470.29) scale(1,1.06)" font-size="6.1" fill="#555" text-anchor="end">LEAP2</text>
<line x1="504.5" y1="468.09" x2="506.5" y2="468.09" stroke="#555" stroke-width="0.6"/>
<text transform="translate(503.90,484.12) scale(1,1.06)" font-size="6.1" fill="#555" text-anchor="end">GDF15</text>
<line x1="504.5" y1="481.92" x2="506.5" y2="481.92" stroke="#555" stroke-width="0.6"/>
<text transform="translate(503.90,497.95) scale(1,1.06)" font-size="6.1" fill="#555" text-anchor="end">VOPP1</text>
<line x1="504.5" y1="495.75" x2="506.5" y2="495.75" stroke="#555" stroke-width="0.6"/>
<text transform="translate(503.90,511.78) scale(1,1.06)" font-size="6.1" fill="#555" text-anchor="end">CREBBP</text>
<line x1="504.5" y1="509.58" x2="506.5" y2="509.58" stroke="#555" stroke-width="0.6"/>
<text transform="translate(503.90,525.62) scale(1,1.06)" font-size="6.1" fill="#555" text-anchor="end">NOTUM</text>
<line x1="504.5" y1="523.41" x2="506.5" y2="523.41" stroke="#555" stroke-width="0.6"/>
<line x1="552.6" y1="531.5" x2="552.6" y2="533.4" stroke="#555" stroke-width="0.6"/>
<text transform="translate(552.60,539.80) scale(1,1.06)" font-size="8.6" fill="#555" text-anchor="middle">0.8</text>
<line x1="591.8" y1="531.5" x2="591.8" y2="533.4" stroke="#555" stroke-width="0.6"/>
<text transform="translate(591.80,539.80) scale(1,1.06)" font-size="8.6" fill="#555" text-anchor="middle">1.0</text>
<line x1="623.5" y1="531.5" x2="623.5" y2="533.4" stroke="#555" stroke-width="0.6"/>
<text transform="translate(623.50,539.80) scale(1,1.06)" font-size="8.6" fill="#555" text-anchor="middle">1.2</text>
<line x1="650.7" y1="531.5" x2="650.7" y2="533.4" stroke="#555" stroke-width="0.6"/>
<text transform="translate(650.70,539.80) scale(1,1.06)" font-size="8.6" fill="#555" text-anchor="middle">1.4</text>
<line x1="674.6" y1="531.5" x2="674.6" y2="533.4" stroke="#555" stroke-width="0.6"/>
<text transform="translate(674.60,539.80) scale(1,1.06)" font-size="8.6" fill="#555" text-anchor="middle">1.6</text>
<line x1="568.2" y1="383.42" x2="623.9" y2="383.42" stroke="#f2707d" stroke-width="1.05"/>
<circle cx="595.9" cy="383.42" r="1.1" fill="#fff" stroke="#ff3a52" stroke-width="0.6"/>
<line x1="632.4" y1="386.81" x2="675.9" y2="386.81" stroke="#5b6480" stroke-width="1.05"/>
<circle cx="654.0" cy="386.81" r="1.35" fill="#2b385c"/>
<line x1="587.7" y1="397.25" x2="644.5" y2="397.25" stroke="#f2707d" stroke-width="1.05"/>
<circle cx="616.0" cy="397.25" r="1.1" fill="#fff" stroke="#ff3a52" stroke-width="0.6"/>
<line x1="621.1" y1="400.64" x2="664.0" y2="400.64" stroke="#5b6480" stroke-width="1.05"/>
<circle cx="642.3" cy="400.64" r="1.35" fill="#2b385c"/>
<line x1="592.3" y1="411.07" x2="634.8" y2="411.07" stroke="#f8b0b8" stroke-width="1.05"/>
<circle cx="613.5" cy="411.07" r="1.35" fill="#ff3a52"/>
<line x1="612.4" y1="414.47" x2="648.0" y2="414.47" stroke="#5b6480" stroke-width="1.05"/>
<circle cx="629.9" cy="414.47" r="1.35" fill="#2b385c"/>
<line x1="582.3" y1="424.91" x2="638.5" y2="424.91" stroke="#f8b0b8" stroke-width="1.05"/>
<circle cx="610.4" cy="424.91" r="1.1" fill="#fff" stroke="#ff3a52" stroke-width="0.6"/>
<line x1="618.9" y1="428.31" x2="660.0" y2="428.31" stroke="#5b6480" stroke-width="1.05"/>
<circle cx="639.4" cy="428.31" r="1.35" fill="#2b385c"/>
<line x1="600.1" y1="438.74" x2="648.1" y2="438.74" stroke="#f2707d" stroke-width="1.05"/>
<circle cx="623.9" cy="438.74" r="1.35" fill="#ff3a52"/>
<line x1="608.9" y1="442.13" x2="643.4" y2="442.13" stroke="#5b6480" stroke-width="1.05"/>
<circle cx="626.1" cy="442.13" r="1.35" fill="#2b385c"/>
<line x1="601.1" y1="452.56" x2="654.0" y2="452.56" stroke="#f2707d" stroke-width="1.05"/>
<circle cx="627.3" cy="452.56" r="1.35" fill="#ff3a52"/>
<line x1="611.6" y1="455.96" x2="653.6" y2="455.96" stroke="#b3b8c5" stroke-width="1.05"/>
<circle cx="632.6" cy="455.96" r="1.35" fill="#2b385c"/>
<line x1="606.2" y1="466.39" x2="661.6" y2="466.39" stroke="#f2707d" stroke-width="1.05"/>
<circle cx="633.9" cy="466.39" r="1.35" fill="#ff3a52"/>
<line x1="597.0" y1="469.79" x2="638.8" y2="469.79" stroke="#5b6480" stroke-width="1.05"/>
<circle cx="618.0" cy="469.79" r="1.35" fill="#2b385c"/>
<line x1="601.6" y1="480.22" x2="658.5" y2="480.22" stroke="#f2707d" stroke-width="1.05"/>
<circle cx="629.7" cy="480.22" r="1.35" fill="#ff3a52"/>
<line x1="605.3" y1="483.62" x2="655.3" y2="483.62" stroke="#5b6480" stroke-width="1.05"/>
<circle cx="630.1" cy="483.62" r="1.35" fill="#2b385c"/>
<line x1="514.8" y1="494.06" x2="578.8" y2="494.06" stroke="#f2707d" stroke-width="1.05"/>
<circle cx="546.7" cy="494.06" r="1.35" fill="#ff3a52"/>
<line x1="537.0" y1="497.45" x2="581.9" y2="497.45" stroke="#5b6480" stroke-width="1.05"/>
<circle cx="559.5" cy="497.45" r="1.35" fill="#2b385c"/>
<line x1="591.9" y1="507.88" x2="639.6" y2="507.88" stroke="#f8b0b8" stroke-width="1.05"/>
<circle cx="615.3" cy="507.88" r="1.1" fill="#fff" stroke="#ff3a52" stroke-width="0.6"/>
<line x1="609.8" y1="511.28" x2="644.9" y2="511.28" stroke="#5b6480" stroke-width="1.05"/>
<circle cx="627.5" cy="511.28" r="1.35" fill="#2b385c"/>
<line x1="560.5" y1="521.71" x2="611.6" y2="521.71" stroke="#f2707d" stroke-width="1.05"/>
<circle cx="586.1" cy="521.71" r="1.1" fill="#fff" stroke="#ff3a52" stroke-width="0.6"/>
<line x1="537.8" y1="525.12" x2="579.2" y2="525.12" stroke="#b3b8c5" stroke-width="1.05"/>
<circle cx="558.3" cy="525.12" r="1.35" fill="#2b385c"/>
<text transform="translate(595.40,372.80) scale(1,1.06)" font-size="9.07" fill="#000" text-anchor="middle">Incident Coronary Heart Disease</text>
<text transform="translate(595.70,549.20) scale(1,1.06)" font-size="8.6" fill="#000" text-anchor="middle">Hazard Ratio</text>
<text x="0" y="0" font-size="8.8" text-anchor="middle" transform="translate(476.6,454.2) rotate(-90)">Protein</text>
<text transform="translate(468.50,360.50) scale(1,1.08)" font-size="15.4" fill="#000" text-anchor="start" font-weight="bold">D</text>
<text transform="translate(595.70,562.40) scale(1,1.06)" font-size="5.1" fill="#000" text-anchor="middle">Model</text>
<circle cx="563.3" cy="569.60" r="0.9" fill="#ff3a52"/>
<text transform="translate(569.80,571.20) scale(1,1.06)" font-size="5.15" fill="#000" text-anchor="start">No atherosclerosis</text>
<circle cx="563.3" cy="577.20" r="0.9" fill="#2b385c"/>
<text transform="translate(569.80,578.80) scale(1,1.06)" font-size="5.15" fill="#000" text-anchor="start">Subclinical atherosclerosis</text>
</svg></body></html>
